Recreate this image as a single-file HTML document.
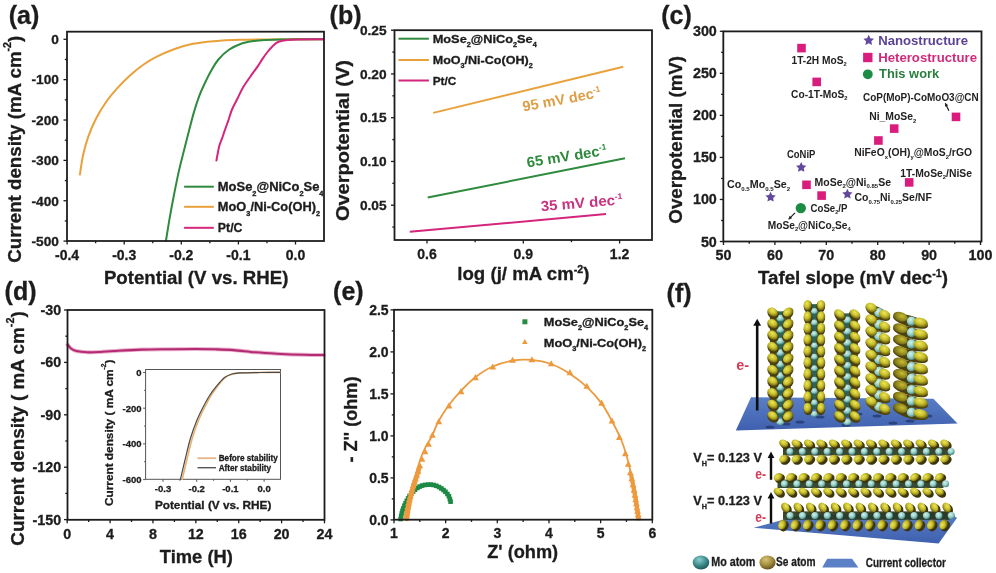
<!DOCTYPE html>
<html><head><meta charset="utf-8"><title>Figure</title>
<style>html,body{margin:0;padding:0;background:#fff;overflow:hidden;} svg{display:block;}</style></head>
<body><svg width="996" height="573" viewBox="0 0 996 573">
<defs>
<radialGradient id="gY" cx="0.4" cy="0.35" r="0.72">
<stop offset="0" stop-color="#ebe65c"/><stop offset="0.5" stop-color="#c6bc28"/><stop offset="1" stop-color="#534a0c"/></radialGradient>
<radialGradient id="gYd" cx="0.6" cy="0.4" r="0.72">
<stop offset="0" stop-color="#c8be30"/><stop offset="0.6" stop-color="#8a801c"/><stop offset="1" stop-color="#4a420c"/></radialGradient>
<radialGradient id="gC" cx="0.4" cy="0.35" r="0.7">
<stop offset="0" stop-color="#d4f2ee"/><stop offset="0.55" stop-color="#92cdc6"/><stop offset="1" stop-color="#3a7a72"/></radialGradient>
<radialGradient id="gMo" cx="0.4" cy="0.3" r="0.75">
<stop offset="0" stop-color="#8ccfcf"/><stop offset="0.55" stop-color="#3f8a8c"/><stop offset="1" stop-color="#1d4f52"/></radialGradient>
<radialGradient id="gSe" cx="0.4" cy="0.3" r="0.75">
<stop offset="0" stop-color="#d8c47a"/><stop offset="0.55" stop-color="#a08a3c"/><stop offset="1" stop-color="#5a4a18"/></radialGradient>
<linearGradient id="gPl" x1="0" y1="0" x2="0" y2="1">
<stop offset="0" stop-color="#5a7ec6"/><stop offset="1" stop-color="#3f60ae"/></linearGradient>
<filter id="fb" x="-5%" y="-5%" width="110%" height="110%"><feGaussianBlur stdDeviation="0.55"/></filter>
<filter id="gbl" x="0" y="0" width="100%" height="100%" filterUnits="userSpaceOnUse"><feGaussianBlur stdDeviation="0.45"/></filter>
</defs>
<rect width="996" height="573" fill="#fff"/>
<g filter="url(#gbl)">
<text x="8.80" y="23.90" font-size="25" fill="#1c1c1c" font-weight="bold" font-family="'Liberation Sans', Arial, Helvetica, sans-serif" stroke="#1c1c1c" stroke-width="0.3" >(a)</text>
<path d="M79.90,174.60 C80.43,171.33 81.70,161.32 83.10,155.00 C84.50,148.68 86.12,142.82 88.30,136.70 C90.48,130.58 93.15,124.20 96.20,118.30 C99.25,112.40 103.12,106.30 106.60,101.30 C110.08,96.30 113.17,92.65 117.10,88.30 C121.03,83.95 125.83,79.13 130.20,75.20 C134.57,71.27 138.95,67.75 143.30,64.70 C147.65,61.65 151.07,59.52 156.30,56.90 C161.53,54.28 168.58,51.18 174.70,49.00 C180.82,46.82 186.47,45.10 193.00,43.80 C199.53,42.50 206.07,41.87 213.90,41.20 C221.73,40.53 230.65,40.10 240.00,39.80 C249.35,39.50 256.17,39.48 270.00,39.40 C283.83,39.32 314.17,39.32 323.00,39.30" fill="none" stroke="#e9a13a" stroke-width="2.0" stroke-linejoin="round" stroke-linecap="round" />
<path d="M166.00,240.50 C166.67,236.45 168.65,223.92 170.00,216.20 C171.35,208.48 172.58,201.88 174.10,194.20 C175.62,186.52 177.43,177.47 179.10,170.10 C180.77,162.73 182.63,155.83 184.10,150.00 C185.57,144.17 186.25,141.45 187.90,135.10 C189.55,128.75 192.12,118.40 194.00,111.90 C195.88,105.40 197.45,100.77 199.20,96.10 C200.95,91.43 202.60,87.97 204.50,83.90 C206.40,79.83 208.28,75.77 210.60,71.70 C212.92,67.63 215.35,63.15 218.40,59.50 C221.45,55.85 225.12,52.43 228.90,49.80 C232.68,47.17 237.02,45.15 241.10,43.70 C245.18,42.25 249.42,41.72 253.40,41.10 C257.38,40.48 260.57,40.27 265.00,40.00 C269.43,39.73 270.33,39.62 280.00,39.50 C289.67,39.38 315.83,39.33 323.00,39.30" fill="none" stroke="#2f8a3e" stroke-width="2.0" stroke-linejoin="round" stroke-linecap="round" />
<path d="M216.40,160.60 C216.87,158.20 218.28,149.82 219.20,146.20 C220.12,142.58 220.98,141.50 221.90,138.90 C222.82,136.30 223.63,133.65 224.70,130.60 C225.77,127.55 227.08,124.12 228.30,120.60 C229.52,117.08 230.47,113.18 232.00,109.50 C233.53,105.82 235.67,102.17 237.50,98.50 C239.33,94.83 240.85,91.17 243.00,87.50 C245.15,83.83 247.95,80.02 250.40,76.50 C252.85,72.98 255.87,69.05 257.70,66.40 C259.53,63.75 259.97,62.75 261.40,60.60 C262.83,58.45 264.32,56.02 266.30,53.50 C268.28,50.98 271.25,47.45 273.30,45.50 C275.35,43.55 276.27,42.73 278.60,41.80 C280.93,40.87 283.73,40.30 287.30,39.90 C290.87,39.50 294.05,39.50 300.00,39.40 C305.95,39.30 319.17,39.32 323.00,39.30" fill="none" stroke="#d3277b" stroke-width="2.0" stroke-linejoin="round" stroke-linecap="round" />
<rect x="67.00" y="31.70" width="257.00" height="209.30" fill="none" stroke="#1c1c1c" stroke-width="1.8"/>
<line x1="63.50" y1="39.30" x2="67.00" y2="39.30" stroke="#1c1c1c" stroke-width="1.3" />
<line x1="63.50" y1="79.66" x2="67.00" y2="79.66" stroke="#1c1c1c" stroke-width="1.3" />
<line x1="63.50" y1="120.02" x2="67.00" y2="120.02" stroke="#1c1c1c" stroke-width="1.3" />
<line x1="63.50" y1="160.38" x2="67.00" y2="160.38" stroke="#1c1c1c" stroke-width="1.3" />
<line x1="63.50" y1="200.74" x2="67.00" y2="200.74" stroke="#1c1c1c" stroke-width="1.3" />
<line x1="63.50" y1="241.10" x2="67.00" y2="241.10" stroke="#1c1c1c" stroke-width="1.3" />
<line x1="64.80" y1="59.48" x2="67.00" y2="59.48" stroke="#1c1c1c" stroke-width="1.3" />
<line x1="64.80" y1="99.84" x2="67.00" y2="99.84" stroke="#1c1c1c" stroke-width="1.3" />
<line x1="64.80" y1="140.20" x2="67.00" y2="140.20" stroke="#1c1c1c" stroke-width="1.3" />
<line x1="64.80" y1="180.56" x2="67.00" y2="180.56" stroke="#1c1c1c" stroke-width="1.3" />
<line x1="64.80" y1="220.92" x2="67.00" y2="220.92" stroke="#1c1c1c" stroke-width="1.3" />
<line x1="67.10" y1="241.00" x2="67.10" y2="244.50" stroke="#1c1c1c" stroke-width="1.3" />
<line x1="124.20" y1="241.00" x2="124.20" y2="244.50" stroke="#1c1c1c" stroke-width="1.3" />
<line x1="181.30" y1="241.00" x2="181.30" y2="244.50" stroke="#1c1c1c" stroke-width="1.3" />
<line x1="238.40" y1="241.00" x2="238.40" y2="244.50" stroke="#1c1c1c" stroke-width="1.3" />
<line x1="295.50" y1="241.00" x2="295.50" y2="244.50" stroke="#1c1c1c" stroke-width="1.3" />
<line x1="95.65" y1="241.00" x2="95.65" y2="243.20" stroke="#1c1c1c" stroke-width="1.3" />
<line x1="152.75" y1="241.00" x2="152.75" y2="243.20" stroke="#1c1c1c" stroke-width="1.3" />
<line x1="209.85" y1="241.00" x2="209.85" y2="243.20" stroke="#1c1c1c" stroke-width="1.3" />
<line x1="266.95" y1="241.00" x2="266.95" y2="243.20" stroke="#1c1c1c" stroke-width="1.3" />
<text x="58.90" y="44.10" font-size="13.7" fill="#1c1c1c" font-weight="bold" font-family="'Liberation Sans', Arial, Helvetica, sans-serif" text-anchor="end" stroke="#1c1c1c" stroke-width="0.3" >0</text>
<text x="58.90" y="84.46" font-size="13.7" fill="#1c1c1c" font-weight="bold" font-family="'Liberation Sans', Arial, Helvetica, sans-serif" text-anchor="end" stroke="#1c1c1c" stroke-width="0.3" >-100</text>
<text x="58.90" y="124.82" font-size="13.7" fill="#1c1c1c" font-weight="bold" font-family="'Liberation Sans', Arial, Helvetica, sans-serif" text-anchor="end" stroke="#1c1c1c" stroke-width="0.3" >-200</text>
<text x="58.90" y="165.18" font-size="13.7" fill="#1c1c1c" font-weight="bold" font-family="'Liberation Sans', Arial, Helvetica, sans-serif" text-anchor="end" stroke="#1c1c1c" stroke-width="0.3" >-300</text>
<text x="58.90" y="205.54" font-size="13.7" fill="#1c1c1c" font-weight="bold" font-family="'Liberation Sans', Arial, Helvetica, sans-serif" text-anchor="end" stroke="#1c1c1c" stroke-width="0.3" >-400</text>
<text x="58.90" y="245.90" font-size="13.7" fill="#1c1c1c" font-weight="bold" font-family="'Liberation Sans', Arial, Helvetica, sans-serif" text-anchor="end" stroke="#1c1c1c" stroke-width="0.3" >-500</text>
<text x="67.10" y="260.30" font-size="14" fill="#1c1c1c" font-weight="bold" font-family="'Liberation Sans', Arial, Helvetica, sans-serif" text-anchor="middle" stroke="#1c1c1c" stroke-width="0.3" >-0.4</text>
<text x="124.20" y="260.30" font-size="14" fill="#1c1c1c" font-weight="bold" font-family="'Liberation Sans', Arial, Helvetica, sans-serif" text-anchor="middle" stroke="#1c1c1c" stroke-width="0.3" >-0.3</text>
<text x="181.30" y="260.30" font-size="14" fill="#1c1c1c" font-weight="bold" font-family="'Liberation Sans', Arial, Helvetica, sans-serif" text-anchor="middle" stroke="#1c1c1c" stroke-width="0.3" >-0.2</text>
<text x="238.40" y="260.30" font-size="14" fill="#1c1c1c" font-weight="bold" font-family="'Liberation Sans', Arial, Helvetica, sans-serif" text-anchor="middle" stroke="#1c1c1c" stroke-width="0.3" >-0.1</text>
<text x="295.50" y="260.30" font-size="14" fill="#1c1c1c" font-weight="bold" font-family="'Liberation Sans', Arial, Helvetica, sans-serif" text-anchor="middle" stroke="#1c1c1c" stroke-width="0.3" >0.0</text>
<text x="103.90" y="283.90" font-size="18" fill="#1c1c1c" font-weight="bold" font-family="'Liberation Sans', Arial, Helvetica, sans-serif" textLength="184.50" lengthAdjust="spacingAndGlyphs" stroke="#1c1c1c" stroke-width="0.3" >Potential (V vs. RHE)</text>
<text x="20.60" y="262.70" font-size="18" fill="#1c1c1c" font-weight="bold" font-family="'Liberation Sans', Arial, Helvetica, sans-serif" textLength="227.00" lengthAdjust="spacingAndGlyphs" transform="rotate(-90.00 20.60 262.70)" stroke="#1c1c1c" stroke-width="0.3" >Current density (mA cm<tspan dy="-9.90" font-size="10.26">-2</tspan><tspan dy="9.90">)</tspan></text>
<line x1="184.10" y1="186.70" x2="213.80" y2="186.70" stroke="#2f8a3e" stroke-width="2.0" />
<text x="217.80" y="191.10" font-size="12.3" fill="#1c1c1c" font-weight="bold" font-family="'Liberation Sans', Arial, Helvetica, sans-serif" textLength="105.70" lengthAdjust="spacingAndGlyphs" stroke="#1c1c1c" stroke-width="0.3" >MoSe<tspan dy="4.43" font-size="7.01">2</tspan><tspan dy="-4.43">@NiCo</tspan><tspan dy="4.43" font-size="7.01">2</tspan><tspan dy="-4.43">Se</tspan><tspan dy="4.43" font-size="7.01">4</tspan></text>
<line x1="184.10" y1="206.80" x2="213.80" y2="206.80" stroke="#e9a13a" stroke-width="2.0" />
<text x="217.80" y="211.20" font-size="12.3" fill="#1c1c1c" font-weight="bold" font-family="'Liberation Sans', Arial, Helvetica, sans-serif" textLength="102.30" lengthAdjust="spacingAndGlyphs" stroke="#1c1c1c" stroke-width="0.3" >MoO<tspan dy="4.43" font-size="7.01">3</tspan><tspan dy="-4.43">/Ni-Co(OH)</tspan><tspan dy="4.43" font-size="7.01">2</tspan></text>
<line x1="184.10" y1="227.80" x2="213.80" y2="227.80" stroke="#d3277b" stroke-width="2.0" />
<text x="217.80" y="232.20" font-size="12.3" fill="#1c1c1c" font-weight="bold" font-family="'Liberation Sans', Arial, Helvetica, sans-serif" textLength="24.70" lengthAdjust="spacingAndGlyphs" stroke="#1c1c1c" stroke-width="0.3" >Pt/C</text>
<text x="329.60" y="24.00" font-size="25" fill="#1c1c1c" font-weight="bold" font-family="'Liberation Sans', Arial, Helvetica, sans-serif" stroke="#1c1c1c" stroke-width="0.3" >(b)</text>
<line x1="433.20" y1="112.90" x2="623.20" y2="66.70" stroke="#e9a13a" stroke-width="2.0" />
<line x1="427.70" y1="197.60" x2="625.00" y2="158.30" stroke="#2f8a3e" stroke-width="2.0" />
<line x1="409.80" y1="231.70" x2="606.00" y2="214.10" stroke="#d3277b" stroke-width="2.0" />
<rect x="394.50" y="30.20" width="257.50" height="209.80" fill="none" stroke="#1c1c1c" stroke-width="1.8"/>
<line x1="391.00" y1="205.20" x2="394.50" y2="205.20" stroke="#1c1c1c" stroke-width="1.3" />
<line x1="391.00" y1="161.45" x2="394.50" y2="161.45" stroke="#1c1c1c" stroke-width="1.3" />
<line x1="391.00" y1="117.70" x2="394.50" y2="117.70" stroke="#1c1c1c" stroke-width="1.3" />
<line x1="391.00" y1="73.95" x2="394.50" y2="73.95" stroke="#1c1c1c" stroke-width="1.3" />
<line x1="391.00" y1="30.20" x2="394.50" y2="30.20" stroke="#1c1c1c" stroke-width="1.3" />
<line x1="392.30" y1="227.07" x2="394.50" y2="227.07" stroke="#1c1c1c" stroke-width="1.3" />
<line x1="392.30" y1="183.32" x2="394.50" y2="183.32" stroke="#1c1c1c" stroke-width="1.3" />
<line x1="392.30" y1="139.57" x2="394.50" y2="139.57" stroke="#1c1c1c" stroke-width="1.3" />
<line x1="392.30" y1="95.83" x2="394.50" y2="95.83" stroke="#1c1c1c" stroke-width="1.3" />
<line x1="392.30" y1="52.07" x2="394.50" y2="52.07" stroke="#1c1c1c" stroke-width="1.3" />
<line x1="427.00" y1="240.00" x2="427.00" y2="243.50" stroke="#1c1c1c" stroke-width="1.3" />
<line x1="523.30" y1="240.00" x2="523.30" y2="243.50" stroke="#1c1c1c" stroke-width="1.3" />
<line x1="619.60" y1="240.00" x2="619.60" y2="243.50" stroke="#1c1c1c" stroke-width="1.3" />
<line x1="475.15" y1="240.00" x2="475.15" y2="242.20" stroke="#1c1c1c" stroke-width="1.3" />
<line x1="571.45" y1="240.00" x2="571.45" y2="242.20" stroke="#1c1c1c" stroke-width="1.3" />
<text x="386.60" y="209.80" font-size="13.7" fill="#1c1c1c" font-weight="bold" font-family="'Liberation Sans', Arial, Helvetica, sans-serif" text-anchor="end" stroke="#1c1c1c" stroke-width="0.3" >0.05</text>
<text x="386.60" y="166.05" font-size="13.7" fill="#1c1c1c" font-weight="bold" font-family="'Liberation Sans', Arial, Helvetica, sans-serif" text-anchor="end" stroke="#1c1c1c" stroke-width="0.3" >0.10</text>
<text x="386.60" y="122.30" font-size="13.7" fill="#1c1c1c" font-weight="bold" font-family="'Liberation Sans', Arial, Helvetica, sans-serif" text-anchor="end" stroke="#1c1c1c" stroke-width="0.3" >0.15</text>
<text x="386.60" y="78.55" font-size="13.7" fill="#1c1c1c" font-weight="bold" font-family="'Liberation Sans', Arial, Helvetica, sans-serif" text-anchor="end" stroke="#1c1c1c" stroke-width="0.3" >0.20</text>
<text x="386.60" y="34.80" font-size="13.7" fill="#1c1c1c" font-weight="bold" font-family="'Liberation Sans', Arial, Helvetica, sans-serif" text-anchor="end" stroke="#1c1c1c" stroke-width="0.3" >0.25</text>
<text x="427.00" y="258.70" font-size="14" fill="#1c1c1c" font-weight="bold" font-family="'Liberation Sans', Arial, Helvetica, sans-serif" text-anchor="middle" stroke="#1c1c1c" stroke-width="0.3" >0.6</text>
<text x="523.30" y="258.70" font-size="14" fill="#1c1c1c" font-weight="bold" font-family="'Liberation Sans', Arial, Helvetica, sans-serif" text-anchor="middle" stroke="#1c1c1c" stroke-width="0.3" >0.9</text>
<text x="619.60" y="258.70" font-size="14" fill="#1c1c1c" font-weight="bold" font-family="'Liberation Sans', Arial, Helvetica, sans-serif" text-anchor="middle" stroke="#1c1c1c" stroke-width="0.3" >1.2</text>
<text x="457.30" y="279.80" font-size="18" fill="#1c1c1c" font-weight="bold" font-family="'Liberation Sans', Arial, Helvetica, sans-serif" textLength="132.10" lengthAdjust="spacingAndGlyphs" stroke="#1c1c1c" stroke-width="0.3" >log (j/ mA cm<tspan dy="-6.84" font-size="10.26">-2</tspan><tspan dy="6.84">)</tspan></text>
<text x="349.20" y="221.10" font-size="18" fill="#1c1c1c" font-weight="bold" font-family="'Liberation Sans', Arial, Helvetica, sans-serif" textLength="161.10" lengthAdjust="spacingAndGlyphs" transform="rotate(-90.00 349.20 221.10)" stroke="#1c1c1c" stroke-width="0.3" >Overpotential (V)</text>
<line x1="398.50" y1="38.70" x2="428.90" y2="38.70" stroke="#2f8a3e" stroke-width="2.0" />
<text x="432.70" y="42.90" font-size="11.4" fill="#1c1c1c" font-weight="bold" font-family="'Liberation Sans', Arial, Helvetica, sans-serif" textLength="104.10" lengthAdjust="spacingAndGlyphs" stroke="#1c1c1c" stroke-width="0.3" >MoSe<tspan dy="4.10" font-size="6.50">2</tspan><tspan dy="-4.10">@NiCo</tspan><tspan dy="4.10" font-size="6.50">2</tspan><tspan dy="-4.10">Se</tspan><tspan dy="4.10" font-size="6.50">4</tspan></text>
<line x1="398.50" y1="60.00" x2="428.90" y2="60.00" stroke="#e9a13a" stroke-width="2.0" />
<text x="432.70" y="64.20" font-size="11.4" fill="#1c1c1c" font-weight="bold" font-family="'Liberation Sans', Arial, Helvetica, sans-serif" textLength="100.00" lengthAdjust="spacingAndGlyphs" stroke="#1c1c1c" stroke-width="0.3" >MoO<tspan dy="4.10" font-size="6.50">3</tspan><tspan dy="-4.10">/Ni-Co(OH)</tspan><tspan dy="4.10" font-size="6.50">2</tspan></text>
<line x1="398.50" y1="80.50" x2="428.90" y2="80.50" stroke="#d3277b" stroke-width="2.0" />
<text x="432.70" y="84.70" font-size="11.4" fill="#1c1c1c" font-weight="bold" font-family="'Liberation Sans', Arial, Helvetica, sans-serif" textLength="23.50" lengthAdjust="spacingAndGlyphs" stroke="#1c1c1c" stroke-width="0.3" >Pt/C</text>
<text x="523.60" y="111.60" font-size="14.5" fill="#dd9e45" font-weight="bold" font-family="'Liberation Sans', Arial, Helvetica, sans-serif" textLength="79.40" lengthAdjust="spacingAndGlyphs" transform="rotate(-10.70 523.60 111.60)" >95 mV dec<tspan dy="-5.51" font-size="8.26">-1</tspan></text>
<text x="527.60" y="167.40" font-size="14.5" fill="#2f8a3c" font-weight="bold" font-family="'Liberation Sans', Arial, Helvetica, sans-serif" textLength="81.00" lengthAdjust="spacingAndGlyphs" transform="rotate(-9.00 527.60 167.40)" >65 mV dec<tspan dy="-5.51" font-size="8.26">-1</tspan></text>
<text x="541.20" y="211.20" font-size="14.5" fill="#c8307f" font-weight="bold" font-family="'Liberation Sans', Arial, Helvetica, sans-serif" textLength="82.00" lengthAdjust="spacingAndGlyphs" transform="rotate(-4.80 541.20 211.20)" >35 mV dec<tspan dy="-5.51" font-size="8.26">-1</tspan></text>
<text x="661.20" y="24.00" font-size="25" fill="#1c1c1c" font-weight="bold" font-family="'Liberation Sans', Arial, Helvetica, sans-serif" stroke="#1c1c1c" stroke-width="0.3" >(c)</text>
<rect x="723.30" y="31.40" width="258.20" height="210.10" fill="none" stroke="#1c1c1c" stroke-width="1.8"/>
<line x1="719.80" y1="241.50" x2="723.30" y2="241.50" stroke="#1c1c1c" stroke-width="1.3" />
<line x1="719.80" y1="199.46" x2="723.30" y2="199.46" stroke="#1c1c1c" stroke-width="1.3" />
<line x1="719.80" y1="157.42" x2="723.30" y2="157.42" stroke="#1c1c1c" stroke-width="1.3" />
<line x1="719.80" y1="115.38" x2="723.30" y2="115.38" stroke="#1c1c1c" stroke-width="1.3" />
<line x1="719.80" y1="73.34" x2="723.30" y2="73.34" stroke="#1c1c1c" stroke-width="1.3" />
<line x1="719.80" y1="31.30" x2="723.30" y2="31.30" stroke="#1c1c1c" stroke-width="1.3" />
<line x1="721.10" y1="220.48" x2="723.30" y2="220.48" stroke="#1c1c1c" stroke-width="1.3" />
<line x1="721.10" y1="178.44" x2="723.30" y2="178.44" stroke="#1c1c1c" stroke-width="1.3" />
<line x1="721.10" y1="136.40" x2="723.30" y2="136.40" stroke="#1c1c1c" stroke-width="1.3" />
<line x1="721.10" y1="94.36" x2="723.30" y2="94.36" stroke="#1c1c1c" stroke-width="1.3" />
<line x1="721.10" y1="52.32" x2="723.30" y2="52.32" stroke="#1c1c1c" stroke-width="1.3" />
<line x1="723.50" y1="241.50" x2="723.50" y2="245.00" stroke="#1c1c1c" stroke-width="1.3" />
<line x1="774.90" y1="241.50" x2="774.90" y2="245.00" stroke="#1c1c1c" stroke-width="1.3" />
<line x1="826.30" y1="241.50" x2="826.30" y2="245.00" stroke="#1c1c1c" stroke-width="1.3" />
<line x1="877.70" y1="241.50" x2="877.70" y2="245.00" stroke="#1c1c1c" stroke-width="1.3" />
<line x1="929.10" y1="241.50" x2="929.10" y2="245.00" stroke="#1c1c1c" stroke-width="1.3" />
<line x1="980.50" y1="241.50" x2="980.50" y2="245.00" stroke="#1c1c1c" stroke-width="1.3" />
<line x1="749.20" y1="241.50" x2="749.20" y2="243.70" stroke="#1c1c1c" stroke-width="1.3" />
<line x1="800.60" y1="241.50" x2="800.60" y2="243.70" stroke="#1c1c1c" stroke-width="1.3" />
<line x1="852.00" y1="241.50" x2="852.00" y2="243.70" stroke="#1c1c1c" stroke-width="1.3" />
<line x1="903.40" y1="241.50" x2="903.40" y2="243.70" stroke="#1c1c1c" stroke-width="1.3" />
<line x1="954.80" y1="241.50" x2="954.80" y2="243.70" stroke="#1c1c1c" stroke-width="1.3" />
<text x="716.80" y="246.50" font-size="14.3" fill="#1c1c1c" font-weight="bold" font-family="'Liberation Sans', Arial, Helvetica, sans-serif" text-anchor="end" stroke="#1c1c1c" stroke-width="0.3" >50</text>
<text x="716.80" y="204.46" font-size="14.3" fill="#1c1c1c" font-weight="bold" font-family="'Liberation Sans', Arial, Helvetica, sans-serif" text-anchor="end" stroke="#1c1c1c" stroke-width="0.3" >100</text>
<text x="716.80" y="162.42" font-size="14.3" fill="#1c1c1c" font-weight="bold" font-family="'Liberation Sans', Arial, Helvetica, sans-serif" text-anchor="end" stroke="#1c1c1c" stroke-width="0.3" >150</text>
<text x="716.80" y="120.38" font-size="14.3" fill="#1c1c1c" font-weight="bold" font-family="'Liberation Sans', Arial, Helvetica, sans-serif" text-anchor="end" stroke="#1c1c1c" stroke-width="0.3" >200</text>
<text x="716.80" y="78.34" font-size="14.3" fill="#1c1c1c" font-weight="bold" font-family="'Liberation Sans', Arial, Helvetica, sans-serif" text-anchor="end" stroke="#1c1c1c" stroke-width="0.3" >250</text>
<text x="716.80" y="36.30" font-size="14.3" fill="#1c1c1c" font-weight="bold" font-family="'Liberation Sans', Arial, Helvetica, sans-serif" text-anchor="end" stroke="#1c1c1c" stroke-width="0.3" >300</text>
<text x="723.50" y="259.60" font-size="14.3" fill="#1c1c1c" font-weight="bold" font-family="'Liberation Sans', Arial, Helvetica, sans-serif" text-anchor="middle" stroke="#1c1c1c" stroke-width="0.3" >50</text>
<text x="774.90" y="259.60" font-size="14.3" fill="#1c1c1c" font-weight="bold" font-family="'Liberation Sans', Arial, Helvetica, sans-serif" text-anchor="middle" stroke="#1c1c1c" stroke-width="0.3" >60</text>
<text x="826.30" y="259.60" font-size="14.3" fill="#1c1c1c" font-weight="bold" font-family="'Liberation Sans', Arial, Helvetica, sans-serif" text-anchor="middle" stroke="#1c1c1c" stroke-width="0.3" >70</text>
<text x="877.70" y="259.60" font-size="14.3" fill="#1c1c1c" font-weight="bold" font-family="'Liberation Sans', Arial, Helvetica, sans-serif" text-anchor="middle" stroke="#1c1c1c" stroke-width="0.3" >80</text>
<text x="929.10" y="259.60" font-size="14.3" fill="#1c1c1c" font-weight="bold" font-family="'Liberation Sans', Arial, Helvetica, sans-serif" text-anchor="middle" stroke="#1c1c1c" stroke-width="0.3" >90</text>
<text x="980.50" y="259.60" font-size="14.3" fill="#1c1c1c" font-weight="bold" font-family="'Liberation Sans', Arial, Helvetica, sans-serif" text-anchor="middle" stroke="#1c1c1c" stroke-width="0.3" >100</text>
<text x="758.00" y="284.00" font-size="18" fill="#1c1c1c" font-weight="bold" font-family="'Liberation Sans', Arial, Helvetica, sans-serif" textLength="190.00" lengthAdjust="spacingAndGlyphs" stroke="#1c1c1c" stroke-width="0.3" >Tafel slope (mV dec<tspan dy="-6.84" font-size="10.26">-1</tspan><tspan dy="6.84">)</tspan></text>
<text x="681.60" y="223.70" font-size="18" fill="#1c1c1c" font-weight="bold" font-family="'Liberation Sans', Arial, Helvetica, sans-serif" textLength="167.80" lengthAdjust="spacingAndGlyphs" transform="rotate(-90.00 681.60 223.70)" stroke="#1c1c1c" stroke-width="0.3" >Overpotential (mV)</text>
<rect x="797.20" y="43.80" width="8.6" height="8.6" fill="#d91e7e"/>
<text x="791.50" y="63.70" font-size="10.5" fill="#222" font-weight="bold" font-family="'Liberation Sans', Arial, Helvetica, sans-serif" textLength="55.20" lengthAdjust="spacingAndGlyphs" >1T-2H MoS<tspan dy="2.31" font-size="5.98">2</tspan></text>
<rect x="812.40" y="77.60" width="8.6" height="8.6" fill="#d91e7e"/>
<text x="791.10" y="97.60" font-size="10.5" fill="#222" font-weight="bold" font-family="'Liberation Sans', Arial, Helvetica, sans-serif" textLength="56.50" lengthAdjust="spacingAndGlyphs" >Co-1T-MoS<tspan dy="2.31" font-size="5.98">2</tspan></text>
<rect x="951.70" y="112.60" width="8.6" height="8.6" fill="#d91e7e"/>
<text x="863.00" y="100.70" font-size="10.5" fill="#222" font-weight="bold" font-family="'Liberation Sans', Arial, Helvetica, sans-serif" textLength="115.70" lengthAdjust="spacingAndGlyphs" >CoP(MoP)-CoMoO3@CN</text>
<line x1="948.90" y1="110.70" x2="945.30" y2="103.20" stroke="#1c1c1c" stroke-width="1.2" />
<polygon points="945.30,103.20 948.31,105.31 945.06,106.86" fill="#1c1c1c"/>
<rect x="889.90" y="124.30" width="8.6" height="8.6" fill="#d91e7e"/>
<text x="869.20" y="120.30" font-size="10.5" fill="#222" font-weight="bold" font-family="'Liberation Sans', Arial, Helvetica, sans-serif" textLength="47.10" lengthAdjust="spacingAndGlyphs" >Ni_MoSe<tspan dy="2.31" font-size="5.98">2</tspan></text>
<rect x="874.10" y="136.20" width="8.6" height="8.6" fill="#d91e7e"/>
<text x="854.20" y="156.40" font-size="10.5" fill="#222" font-weight="bold" font-family="'Liberation Sans', Arial, Helvetica, sans-serif" textLength="117.80" lengthAdjust="spacingAndGlyphs" >NiFeO<tspan dy="2.31" font-size="5.98">x</tspan><tspan dy="-2.31">(OH)</tspan><tspan dy="2.31" font-size="5.98">y</tspan><tspan dy="-2.31">@MoS</tspan><tspan dy="2.31" font-size="5.98">2</tspan><tspan dy="-2.31">/rGO</tspan></text>
<rect x="904.90" y="178.10" width="8.6" height="8.6" fill="#d91e7e"/>
<text x="900.30" y="176.60" font-size="10.5" fill="#222" font-weight="bold" font-family="'Liberation Sans', Arial, Helvetica, sans-serif" textLength="71.70" lengthAdjust="spacingAndGlyphs" >1T-MoSe<tspan dy="2.31" font-size="5.98">2</tspan><tspan dy="-2.31">/NiSe</tspan></text>
<rect x="802.20" y="180.50" width="8.6" height="8.6" fill="#d91e7e"/>
<text x="814.50" y="185.80" font-size="10.5" fill="#222" font-weight="bold" font-family="'Liberation Sans', Arial, Helvetica, sans-serif" textLength="76.50" lengthAdjust="spacingAndGlyphs" >MoSe<tspan dy="2.31" font-size="5.98">2</tspan><tspan dy="-2.31">@Ni</tspan><tspan dy="2.31" font-size="5.98">0.85</tspan><tspan dy="-2.31">Se</tspan></text>
<rect x="817.30" y="191.30" width="8.6" height="8.6" fill="#d91e7e"/>
<text x="810.60" y="212.00" font-size="10.5" fill="#222" font-weight="bold" font-family="'Liberation Sans', Arial, Helvetica, sans-serif" textLength="36.80" lengthAdjust="spacingAndGlyphs" >CoSe<tspan dy="2.31" font-size="5.98">2</tspan><tspan dy="-2.31">/P</tspan></text>
<polygon points="801.20,162.10 802.79,165.32 806.34,165.83 803.77,168.33 804.37,171.87 801.20,170.20 798.03,171.87 798.63,168.33 796.06,165.83 799.61,165.32" fill="#644a9c"/>
<text x="787.00" y="158.10" font-size="10.5" fill="#222" font-weight="bold" font-family="'Liberation Sans', Arial, Helvetica, sans-serif" textLength="28.40" lengthAdjust="spacingAndGlyphs" >CoNiP</text>
<polygon points="770.60,191.80 772.19,195.02 775.74,195.53 773.17,198.03 773.77,201.57 770.60,199.90 767.43,201.57 768.03,198.03 765.46,195.53 769.01,195.02" fill="#644a9c"/>
<text x="727.00" y="188.30" font-size="10.5" fill="#222" font-weight="bold" font-family="'Liberation Sans', Arial, Helvetica, sans-serif" textLength="63.20" lengthAdjust="spacingAndGlyphs" >Co<tspan dy="2.31" font-size="5.98">0.5</tspan><tspan dy="-2.31">Mo</tspan><tspan dy="2.31" font-size="5.98">0.5</tspan><tspan dy="-2.31">Se</tspan><tspan dy="2.31" font-size="5.98">2</tspan></text>
<polygon points="847.40,188.80 848.99,192.02 852.54,192.53 849.97,195.03 850.57,198.57 847.40,196.90 844.23,198.57 844.83,195.03 842.26,192.53 845.81,192.02" fill="#644a9c"/>
<text x="854.50" y="201.30" font-size="10.5" fill="#222" font-weight="bold" font-family="'Liberation Sans', Arial, Helvetica, sans-serif" textLength="77.30" lengthAdjust="spacingAndGlyphs" >Co<tspan dy="2.31" font-size="5.98">0.75</tspan><tspan dy="-2.31">Ni</tspan><tspan dy="2.31" font-size="5.98">0.25</tspan><tspan dy="-2.31">Se/NF</tspan></text>
<circle cx="800.80" cy="208.10" r="5.2" fill="#1f8c45"/>
<line x1="795.00" y1="212.90" x2="788.60" y2="219.30" stroke="#1c1c1c" stroke-width="1.2" />
<polygon points="788.60,219.30 789.59,215.76 792.14,218.31" fill="#1c1c1c"/>
<text x="767.80" y="228.90" font-size="10.5" fill="#222" font-weight="bold" font-family="'Liberation Sans', Arial, Helvetica, sans-serif" textLength="82.80" lengthAdjust="spacingAndGlyphs" >MoSe<tspan dy="2.31" font-size="5.98">2</tspan><tspan dy="-2.31">@NiCo</tspan><tspan dy="2.31" font-size="5.98">2</tspan><tspan dy="-2.31">Se</tspan><tspan dy="2.31" font-size="5.98">4</tspan></text>
<polygon points="868.70,34.80 870.35,38.13 874.03,38.67 871.36,41.27 871.99,44.93 868.70,43.20 865.41,44.93 866.04,41.27 863.37,38.67 867.05,38.13" fill="#644a9c"/>
<text x="878.20" y="44.70" font-size="13.5" fill="#5c4294" font-weight="bold" font-family="'Liberation Sans', Arial, Helvetica, sans-serif" textLength="89.80" lengthAdjust="spacingAndGlyphs" >Nanostructure</text>
<rect x="863.10" y="52.80" width="9.4" height="9.4" fill="#d91e7e"/>
<text x="878.20" y="61.70" font-size="13.5" fill="#d02a7c" font-weight="bold" font-family="'Liberation Sans', Arial, Helvetica, sans-serif" textLength="98.80" lengthAdjust="spacingAndGlyphs" >Heterostructure</text>
<circle cx="867.80" cy="74.30" r="4.9" fill="#1f8c45"/>
<text x="879.00" y="78.30" font-size="13.5" fill="#2a7e3e" font-weight="bold" font-family="'Liberation Sans', Arial, Helvetica, sans-serif" textLength="60.20" lengthAdjust="spacingAndGlyphs" >This work</text>
<text x="4.60" y="300.00" font-size="25" fill="#1c1c1c" font-weight="bold" font-family="'Liberation Sans', Arial, Helvetica, sans-serif" stroke="#1c1c1c" stroke-width="0.3" >(d)</text>
<path d="M67.60,344.70 C68.17,345.33 69.55,347.45 71.00,348.50 C72.45,349.55 73.62,350.37 76.30,351.00 C78.98,351.63 83.15,352.13 87.10,352.30 C91.05,352.47 95.48,352.22 100.00,352.00 C104.52,351.78 107.32,351.40 114.20,351.00 C121.08,350.60 132.00,349.90 141.30,349.60 C150.60,349.30 160.97,349.30 170.00,349.20 C179.03,349.10 188.00,348.98 195.50,349.00 C203.00,349.02 208.67,349.12 215.00,349.30 C221.33,349.48 226.80,349.60 233.50,350.10 C240.20,350.60 247.97,351.70 255.20,352.30 C262.43,352.90 268.77,353.28 276.90,353.70 C285.03,354.12 296.18,354.58 304.00,354.80 C311.82,355.02 320.50,354.97 323.80,355.00" fill="none" stroke="#eab2cc" stroke-width="4.0" stroke-linejoin="round" stroke-linecap="round" />
<path d="M67.60,344.70 C68.17,345.33 69.55,347.45 71.00,348.50 C72.45,349.55 73.62,350.37 76.30,351.00 C78.98,351.63 83.15,352.13 87.10,352.30 C91.05,352.47 95.48,352.22 100.00,352.00 C104.52,351.78 107.32,351.40 114.20,351.00 C121.08,350.60 132.00,349.90 141.30,349.60 C150.60,349.30 160.97,349.30 170.00,349.20 C179.03,349.10 188.00,348.98 195.50,349.00 C203.00,349.02 208.67,349.12 215.00,349.30 C221.33,349.48 226.80,349.60 233.50,350.10 C240.20,350.60 247.97,351.70 255.20,352.30 C262.43,352.90 268.77,353.28 276.90,353.70 C285.03,354.12 296.18,354.58 304.00,354.80 C311.82,355.02 320.50,354.97 323.80,355.00" fill="none" stroke="#b52c74" stroke-width="2.1" stroke-linejoin="round" stroke-linecap="round" />
<rect x="67.50" y="310.00" width="257.00" height="209.80" fill="none" stroke="#1c1c1c" stroke-width="1.8"/>
<line x1="64.00" y1="310.00" x2="67.50" y2="310.00" stroke="#1c1c1c" stroke-width="1.3" />
<line x1="64.00" y1="362.40" x2="67.50" y2="362.40" stroke="#1c1c1c" stroke-width="1.3" />
<line x1="64.00" y1="414.80" x2="67.50" y2="414.80" stroke="#1c1c1c" stroke-width="1.3" />
<line x1="64.00" y1="467.20" x2="67.50" y2="467.20" stroke="#1c1c1c" stroke-width="1.3" />
<line x1="64.00" y1="519.60" x2="67.50" y2="519.60" stroke="#1c1c1c" stroke-width="1.3" />
<line x1="65.30" y1="336.20" x2="67.50" y2="336.20" stroke="#1c1c1c" stroke-width="1.3" />
<line x1="65.30" y1="388.60" x2="67.50" y2="388.60" stroke="#1c1c1c" stroke-width="1.3" />
<line x1="65.30" y1="441.00" x2="67.50" y2="441.00" stroke="#1c1c1c" stroke-width="1.3" />
<line x1="65.30" y1="493.40" x2="67.50" y2="493.40" stroke="#1c1c1c" stroke-width="1.3" />
<line x1="67.20" y1="519.80" x2="67.20" y2="523.30" stroke="#1c1c1c" stroke-width="1.3" />
<line x1="110.08" y1="519.80" x2="110.08" y2="523.30" stroke="#1c1c1c" stroke-width="1.3" />
<line x1="152.96" y1="519.80" x2="152.96" y2="523.30" stroke="#1c1c1c" stroke-width="1.3" />
<line x1="195.84" y1="519.80" x2="195.84" y2="523.30" stroke="#1c1c1c" stroke-width="1.3" />
<line x1="238.72" y1="519.80" x2="238.72" y2="523.30" stroke="#1c1c1c" stroke-width="1.3" />
<line x1="281.60" y1="519.80" x2="281.60" y2="523.30" stroke="#1c1c1c" stroke-width="1.3" />
<line x1="324.48" y1="519.80" x2="324.48" y2="523.30" stroke="#1c1c1c" stroke-width="1.3" />
<line x1="88.64" y1="519.80" x2="88.64" y2="522.00" stroke="#1c1c1c" stroke-width="1.3" />
<line x1="131.52" y1="519.80" x2="131.52" y2="522.00" stroke="#1c1c1c" stroke-width="1.3" />
<line x1="174.40" y1="519.80" x2="174.40" y2="522.00" stroke="#1c1c1c" stroke-width="1.3" />
<line x1="217.28" y1="519.80" x2="217.28" y2="522.00" stroke="#1c1c1c" stroke-width="1.3" />
<line x1="260.16" y1="519.80" x2="260.16" y2="522.00" stroke="#1c1c1c" stroke-width="1.3" />
<line x1="303.04" y1="519.80" x2="303.04" y2="522.00" stroke="#1c1c1c" stroke-width="1.3" />
<text x="61.20" y="315.00" font-size="14.3" fill="#1c1c1c" font-weight="bold" font-family="'Liberation Sans', Arial, Helvetica, sans-serif" text-anchor="end" stroke="#1c1c1c" stroke-width="0.3" >-30</text>
<text x="61.20" y="367.40" font-size="14.3" fill="#1c1c1c" font-weight="bold" font-family="'Liberation Sans', Arial, Helvetica, sans-serif" text-anchor="end" stroke="#1c1c1c" stroke-width="0.3" >-60</text>
<text x="61.20" y="419.80" font-size="14.3" fill="#1c1c1c" font-weight="bold" font-family="'Liberation Sans', Arial, Helvetica, sans-serif" text-anchor="end" stroke="#1c1c1c" stroke-width="0.3" >-90</text>
<text x="61.20" y="472.20" font-size="14.3" fill="#1c1c1c" font-weight="bold" font-family="'Liberation Sans', Arial, Helvetica, sans-serif" text-anchor="end" stroke="#1c1c1c" stroke-width="0.3" >-120</text>
<text x="61.20" y="524.60" font-size="14.3" fill="#1c1c1c" font-weight="bold" font-family="'Liberation Sans', Arial, Helvetica, sans-serif" text-anchor="end" stroke="#1c1c1c" stroke-width="0.3" >-150</text>
<text x="67.20" y="538.80" font-size="14.3" fill="#1c1c1c" font-weight="bold" font-family="'Liberation Sans', Arial, Helvetica, sans-serif" text-anchor="middle" stroke="#1c1c1c" stroke-width="0.3" >0</text>
<text x="110.08" y="538.80" font-size="14.3" fill="#1c1c1c" font-weight="bold" font-family="'Liberation Sans', Arial, Helvetica, sans-serif" text-anchor="middle" stroke="#1c1c1c" stroke-width="0.3" >4</text>
<text x="152.96" y="538.80" font-size="14.3" fill="#1c1c1c" font-weight="bold" font-family="'Liberation Sans', Arial, Helvetica, sans-serif" text-anchor="middle" stroke="#1c1c1c" stroke-width="0.3" >8</text>
<text x="195.84" y="538.80" font-size="14.3" fill="#1c1c1c" font-weight="bold" font-family="'Liberation Sans', Arial, Helvetica, sans-serif" text-anchor="middle" stroke="#1c1c1c" stroke-width="0.3" >12</text>
<text x="238.72" y="538.80" font-size="14.3" fill="#1c1c1c" font-weight="bold" font-family="'Liberation Sans', Arial, Helvetica, sans-serif" text-anchor="middle" stroke="#1c1c1c" stroke-width="0.3" >16</text>
<text x="281.60" y="538.80" font-size="14.3" fill="#1c1c1c" font-weight="bold" font-family="'Liberation Sans', Arial, Helvetica, sans-serif" text-anchor="middle" stroke="#1c1c1c" stroke-width="0.3" >20</text>
<text x="324.48" y="538.80" font-size="14.3" fill="#1c1c1c" font-weight="bold" font-family="'Liberation Sans', Arial, Helvetica, sans-serif" text-anchor="middle" stroke="#1c1c1c" stroke-width="0.3" >24</text>
<text x="159.80" y="563.30" font-size="18" fill="#1c1c1c" font-weight="bold" font-family="'Liberation Sans', Arial, Helvetica, sans-serif" textLength="73.10" lengthAdjust="spacingAndGlyphs" stroke="#1c1c1c" stroke-width="0.3" >Time (H)</text>
<text x="24.00" y="545.70" font-size="18" fill="#1c1c1c" font-weight="bold" font-family="'Liberation Sans', Arial, Helvetica, sans-serif" textLength="234.40" lengthAdjust="spacingAndGlyphs" transform="rotate(-90.00 24.00 545.70)" stroke="#1c1c1c" stroke-width="0.3" >Current density ( mA cm<tspan dy="-9.90" font-size="10.26">-2</tspan><tspan dy="9.90">)</tspan></text>
<rect x="145.6" y="369.5" width="134.9" height="109.80000000000001" fill="#fff" stroke="#555" stroke-width="1"/>
<path d="M182.20,479.30 C182.97,476.08 185.13,466.80 186.80,460.00 C188.47,453.20 190.28,445.00 192.20,438.50 C194.12,432.00 196.20,426.25 198.30,421.00 C200.40,415.75 202.68,411.25 204.80,407.00 C206.92,402.75 208.87,398.97 211.00,395.50 C213.13,392.03 215.22,389.20 217.60,386.20 C219.98,383.20 222.82,379.53 225.30,377.50 C227.78,375.47 229.97,374.77 232.50,374.00 C235.03,373.23 235.92,373.15 240.50,372.90 C245.08,372.65 253.42,372.58 260.00,372.50 C266.58,372.42 276.67,372.42 280.00,372.40" fill="none" stroke="#e9b070" stroke-width="1.6" stroke-linejoin="round" stroke-linecap="round" />
<path d="M180.40,479.30 C181.17,476.08 183.33,466.80 185.00,460.00 C186.67,453.20 188.47,445.00 190.40,438.50 C192.33,432.00 194.47,426.25 196.60,421.00 C198.73,415.75 201.03,411.25 203.20,407.00 C205.37,402.75 207.38,398.97 209.60,395.50 C211.82,392.03 214.02,389.20 216.50,386.20 C218.98,383.20 221.92,379.53 224.50,377.50 C227.08,375.47 229.42,374.77 232.00,374.00 C234.58,373.23 235.33,373.15 240.00,372.90 C244.67,372.65 253.33,372.58 260.00,372.50 C266.67,372.42 276.67,372.42 280.00,372.40" fill="none" stroke="#4a4a4a" stroke-width="1.2" stroke-linejoin="round" stroke-linecap="round" />
<line x1="143.10" y1="372.50" x2="145.60" y2="372.50" stroke="#555" stroke-width="1" />
<line x1="143.10" y1="408.20" x2="145.60" y2="408.20" stroke="#555" stroke-width="1" />
<line x1="143.10" y1="443.90" x2="145.60" y2="443.90" stroke="#555" stroke-width="1" />
<line x1="143.10" y1="479.60" x2="145.60" y2="479.60" stroke="#555" stroke-width="1" />
<line x1="144.10" y1="390.35" x2="145.60" y2="390.35" stroke="#555" stroke-width="1" />
<line x1="144.10" y1="426.05" x2="145.60" y2="426.05" stroke="#555" stroke-width="1" />
<line x1="144.10" y1="461.75" x2="145.60" y2="461.75" stroke="#555" stroke-width="1" />
<line x1="163.00" y1="479.30" x2="163.00" y2="481.80" stroke="#555" stroke-width="1" />
<line x1="196.70" y1="479.30" x2="196.70" y2="481.80" stroke="#555" stroke-width="1" />
<line x1="230.40" y1="479.30" x2="230.40" y2="481.80" stroke="#555" stroke-width="1" />
<line x1="264.10" y1="479.30" x2="264.10" y2="481.80" stroke="#555" stroke-width="1" />
<line x1="179.85" y1="479.30" x2="179.85" y2="480.80" stroke="#555" stroke-width="1" />
<line x1="213.55" y1="479.30" x2="213.55" y2="480.80" stroke="#555" stroke-width="1" />
<line x1="247.25" y1="479.30" x2="247.25" y2="480.80" stroke="#555" stroke-width="1" />
<text x="141.60" y="375.90" font-size="9.5" fill="#1c1c1c" font-weight="bold" font-family="'Liberation Sans', Arial, Helvetica, sans-serif" text-anchor="end" stroke="#1c1c1c" stroke-width="0.3" >0</text>
<text x="141.60" y="411.60" font-size="9.5" fill="#1c1c1c" font-weight="bold" font-family="'Liberation Sans', Arial, Helvetica, sans-serif" text-anchor="end" stroke="#1c1c1c" stroke-width="0.3" >-200</text>
<text x="141.60" y="447.30" font-size="9.5" fill="#1c1c1c" font-weight="bold" font-family="'Liberation Sans', Arial, Helvetica, sans-serif" text-anchor="end" stroke="#1c1c1c" stroke-width="0.3" >-400</text>
<text x="141.60" y="483.00" font-size="9.5" fill="#1c1c1c" font-weight="bold" font-family="'Liberation Sans', Arial, Helvetica, sans-serif" text-anchor="end" stroke="#1c1c1c" stroke-width="0.3" >-600</text>
<text x="163.00" y="492.00" font-size="9.5" fill="#1c1c1c" font-weight="bold" font-family="'Liberation Sans', Arial, Helvetica, sans-serif" text-anchor="middle" stroke="#1c1c1c" stroke-width="0.3" >-0.3</text>
<text x="196.70" y="492.00" font-size="9.5" fill="#1c1c1c" font-weight="bold" font-family="'Liberation Sans', Arial, Helvetica, sans-serif" text-anchor="middle" stroke="#1c1c1c" stroke-width="0.3" >-0.2</text>
<text x="230.40" y="492.00" font-size="9.5" fill="#1c1c1c" font-weight="bold" font-family="'Liberation Sans', Arial, Helvetica, sans-serif" text-anchor="middle" stroke="#1c1c1c" stroke-width="0.3" >-0.1</text>
<text x="264.10" y="492.00" font-size="9.5" fill="#1c1c1c" font-weight="bold" font-family="'Liberation Sans', Arial, Helvetica, sans-serif" text-anchor="middle" stroke="#1c1c1c" stroke-width="0.3" >0.0</text>
<text x="154.90" y="508.50" font-size="11" fill="#1c1c1c" font-weight="bold" font-family="'Liberation Sans', Arial, Helvetica, sans-serif" textLength="116.50" lengthAdjust="spacingAndGlyphs" stroke="#1c1c1c" stroke-width="0.3" >Potential (V vs. RHE)</text>
<text x="113.20" y="506.00" font-size="11" fill="#1c1c1c" font-weight="bold" font-family="'Liberation Sans', Arial, Helvetica, sans-serif" textLength="146.50" lengthAdjust="spacingAndGlyphs" transform="rotate(-90.00 113.20 506.00)" stroke="#1c1c1c" stroke-width="0.3" >Current density ( mA cm<tspan dy="-6.82" font-size="6.27">-2</tspan><tspan dy="6.82">)</tspan></text>
<line x1="197.50" y1="458.20" x2="216.00" y2="458.20" stroke="#e6b488" stroke-width="1.8" />
<line x1="197.50" y1="467.70" x2="216.00" y2="467.70" stroke="#555555" stroke-width="1.4" />
<text x="218.70" y="461.20" font-size="8.5" fill="#1c1c1c" font-weight="bold" font-family="'Liberation Sans', Arial, Helvetica, sans-serif" textLength="59.00" lengthAdjust="spacingAndGlyphs" stroke="#1c1c1c" stroke-width="0.3" >Before stability</text>
<text x="218.70" y="470.60" font-size="8.5" fill="#1c1c1c" font-weight="bold" font-family="'Liberation Sans', Arial, Helvetica, sans-serif" textLength="52.30" lengthAdjust="spacingAndGlyphs" stroke="#1c1c1c" stroke-width="0.3" >After stability</text>
<text x="333.10" y="300.20" font-size="25" fill="#1c1c1c" font-weight="bold" font-family="'Liberation Sans', Arial, Helvetica, sans-serif" stroke="#1c1c1c" stroke-width="0.3" >(e)</text>
<path d="M400.60,519.00 C400.88,517.75 401.63,513.77 402.30,511.50 C402.97,509.23 403.73,507.40 404.60,505.40 C405.47,503.40 406.50,501.32 407.50,499.50 C408.50,497.68 409.25,496.22 410.60,494.50 C411.95,492.78 413.68,490.68 415.60,489.20 C417.52,487.72 419.65,486.37 422.10,485.60 C424.55,484.83 427.77,484.50 430.30,484.60 C432.83,484.70 435.05,485.25 437.30,486.20 C439.55,487.15 441.92,488.72 443.80,490.30 C445.68,491.88 447.47,493.78 448.60,495.70 C449.73,497.62 450.27,500.78 450.60,501.80" fill="none" stroke="#1f8a45" stroke-width="3.4" stroke-linecap="square" stroke-linejoin="round"/>
<rect x="398.30" y="516.70" width="4.6" height="4.6" fill="#1f8a45"/>
<rect x="398.92" y="513.76" width="4.6" height="4.6" fill="#1f8a45"/>
<rect x="399.49" y="511.15" width="4.6" height="4.6" fill="#1f8a45"/>
<rect x="400.20" y="508.53" width="4.6" height="4.6" fill="#1f8a45"/>
<rect x="401.07" y="506.05" width="4.6" height="4.6" fill="#1f8a45"/>
<rect x="402.17" y="503.40" width="4.6" height="4.6" fill="#1f8a45"/>
<rect x="403.26" y="500.98" width="4.6" height="4.6" fill="#1f8a45"/>
<rect x="404.45" y="498.61" width="4.6" height="4.6" fill="#1f8a45"/>
<rect x="405.78" y="496.15" width="4.6" height="4.6" fill="#1f8a45"/>
<rect x="407.22" y="493.69" width="4.6" height="4.6" fill="#1f8a45"/>
<rect x="408.93" y="491.41" width="4.6" height="4.6" fill="#1f8a45"/>
<rect x="410.84" y="489.19" width="4.6" height="4.6" fill="#1f8a45"/>
<rect x="412.73" y="487.36" width="4.6" height="4.6" fill="#1f8a45"/>
<rect x="415.09" y="485.61" width="4.6" height="4.6" fill="#1f8a45"/>
<rect x="417.34" y="484.30" width="4.6" height="4.6" fill="#1f8a45"/>
<rect x="419.80" y="483.30" width="4.6" height="4.6" fill="#1f8a45"/>
<rect x="422.59" y="482.65" width="4.6" height="4.6" fill="#1f8a45"/>
<rect x="425.57" y="482.33" width="4.6" height="4.6" fill="#1f8a45"/>
<rect x="428.38" y="482.32" width="4.6" height="4.6" fill="#1f8a45"/>
<rect x="431.26" y="482.70" width="4.6" height="4.6" fill="#1f8a45"/>
<rect x="433.99" y="483.50" width="4.6" height="4.6" fill="#1f8a45"/>
<rect x="436.70" y="484.72" width="4.6" height="4.6" fill="#1f8a45"/>
<rect x="439.05" y="486.15" width="4.6" height="4.6" fill="#1f8a45"/>
<rect x="441.21" y="487.76" width="4.6" height="4.6" fill="#1f8a45"/>
<rect x="443.15" y="489.50" width="4.6" height="4.6" fill="#1f8a45"/>
<rect x="445.12" y="491.69" width="4.6" height="4.6" fill="#1f8a45"/>
<rect x="446.62" y="494.01" width="4.6" height="4.6" fill="#1f8a45"/>
<rect x="447.60" y="496.79" width="4.6" height="4.6" fill="#1f8a45"/>
<rect x="448.25" y="499.33" width="4.6" height="4.6" fill="#1f8a45"/>
<path d="M405.80,519.50 C406.20,517.08 407.28,509.58 408.20,505.00 C409.12,500.42 410.23,496.17 411.30,492.00 C412.37,487.83 413.55,483.95 414.60,480.00 C415.65,476.05 416.62,471.80 417.60,468.30 C418.58,464.80 419.52,461.80 420.50,459.00 C421.48,456.20 422.38,454.00 423.50,451.50 C424.62,449.00 425.78,446.58 427.20,444.00 C428.62,441.42 430.12,439.80 432.00,436.00 C433.88,432.20 435.73,426.28 438.50,421.20 C441.27,416.12 444.87,410.57 448.60,405.50 C452.33,400.43 456.43,395.52 460.90,390.80 C465.37,386.08 470.20,381.22 475.40,377.20 C480.60,373.18 485.83,369.48 492.10,366.70 C498.37,363.92 506.37,361.63 513.00,360.50 C519.63,359.37 525.53,359.32 531.90,359.90 C538.27,360.48 545.02,361.78 551.20,364.00 C557.38,366.22 563.07,369.40 569.00,373.20 C574.93,377.00 581.37,381.77 586.80,386.80 C592.23,391.83 597.40,397.67 601.60,403.40 C605.80,409.13 608.78,415.27 612.00,421.20 C615.22,427.13 618.42,433.05 620.90,439.00 C623.38,444.95 625.17,450.95 626.90,456.90 C628.63,462.85 629.82,468.77 631.30,474.70 C632.78,480.63 634.57,486.07 635.80,492.50 C637.03,498.93 638.12,508.80 638.70,513.30 C639.28,517.80 639.20,518.47 639.30,519.50" fill="none" stroke="#ec9a3c" stroke-width="1.8" stroke-linejoin="round" stroke-linecap="round" />
<polygon points="405.80,513.71 402.40,519.83 409.20,519.83" fill="#ec9a3c"/>
<polygon points="406.40,510.21 403.00,516.33 409.80,516.33" fill="#ec9a3c"/>
<polygon points="407.00,506.71 403.60,512.83 410.40,512.83" fill="#ec9a3c"/>
<polygon points="407.70,503.21 404.30,509.33 411.10,509.33" fill="#ec9a3c"/>
<polygon points="408.40,499.71 405.00,505.83 411.80,505.83" fill="#ec9a3c"/>
<polygon points="409.20,496.21 405.80,502.33 412.60,502.33" fill="#ec9a3c"/>
<polygon points="410.10,492.71 406.70,498.83 413.50,498.83" fill="#ec9a3c"/>
<polygon points="411.00,489.21 407.60,495.33 414.40,495.33" fill="#ec9a3c"/>
<polygon points="412.00,485.71 408.60,491.83 415.40,491.83" fill="#ec9a3c"/>
<polygon points="413.00,482.21 409.60,488.33 416.40,488.33" fill="#ec9a3c"/>
<polygon points="414.10,478.71 410.70,484.83 417.50,484.83" fill="#ec9a3c"/>
<polygon points="415.30,475.21 411.90,481.33 418.70,481.33" fill="#ec9a3c"/>
<polygon points="416.60,471.71 413.20,477.83 420.00,477.83" fill="#ec9a3c"/>
<polygon points="418.00,467.71 414.60,473.83 421.40,473.83" fill="#ec9a3c"/>
<polygon points="419.80,462.21 416.40,468.33 423.20,468.33" fill="#ec9a3c"/>
<polygon points="422.00,455.71 418.60,461.83 425.40,461.83" fill="#ec9a3c"/>
<polygon points="425.00,448.21 421.60,454.33 428.40,454.33" fill="#ec9a3c"/>
<polygon points="428.50,440.71 425.10,446.83 431.90,446.83" fill="#ec9a3c"/>
<polygon points="432.40,431.71 429.00,437.83 435.80,437.83" fill="#ec9a3c"/>
<polygon points="438.80,418.21 435.40,424.33 442.20,424.33" fill="#ec9a3c"/>
<polygon points="449.00,402.31 445.60,408.43 452.40,408.43" fill="#ec9a3c"/>
<polygon points="461.00,388.11 457.60,394.23 464.40,394.23" fill="#ec9a3c"/>
<polygon points="475.40,374.01 472.00,380.13 478.80,380.13" fill="#ec9a3c"/>
<polygon points="492.70,363.41 489.30,369.53 496.10,369.53" fill="#ec9a3c"/>
<polygon points="512.60,356.71 509.20,362.83 516.00,362.83" fill="#ec9a3c"/>
<polygon points="531.90,356.21 528.50,362.33 535.30,362.33" fill="#ec9a3c"/>
<polygon points="551.20,360.21 547.80,366.33 554.60,366.33" fill="#ec9a3c"/>
<polygon points="569.90,369.01 566.50,375.13 573.30,375.13" fill="#ec9a3c"/>
<polygon points="586.80,382.71 583.40,388.83 590.20,388.83" fill="#ec9a3c"/>
<polygon points="601.60,399.61 598.20,405.73 605.00,405.73" fill="#ec9a3c"/>
<polygon points="612.00,417.41 608.60,423.53 615.40,423.53" fill="#ec9a3c"/>
<polygon points="619.40,433.81 616.00,439.93 622.80,439.93" fill="#ec9a3c"/>
<polygon points="625.40,450.11 622.00,456.23 628.80,456.23" fill="#ec9a3c"/>
<polygon points="628.30,460.71 624.90,466.83 631.70,466.83" fill="#ec9a3c"/>
<polygon points="630.30,469.21 626.90,475.33 633.70,475.33" fill="#ec9a3c"/>
<polygon points="631.80,475.21 628.40,481.33 635.20,481.33" fill="#ec9a3c"/>
<polygon points="633.00,481.21 629.60,487.33 636.40,487.33" fill="#ec9a3c"/>
<polygon points="634.00,486.71 630.60,492.83 637.40,492.83" fill="#ec9a3c"/>
<polygon points="634.90,491.71 631.50,497.83 638.30,497.83" fill="#ec9a3c"/>
<polygon points="635.70,496.21 632.30,502.33 639.10,502.33" fill="#ec9a3c"/>
<polygon points="636.40,500.21 633.00,506.33 639.80,506.33" fill="#ec9a3c"/>
<polygon points="637.00,504.21 633.60,510.33 640.40,510.33" fill="#ec9a3c"/>
<polygon points="637.60,507.71 634.20,513.83 641.00,513.83" fill="#ec9a3c"/>
<polygon points="638.20,511.21 634.80,517.33 641.60,517.33" fill="#ec9a3c"/>
<polygon points="638.70,514.21 635.30,520.33 642.10,520.33" fill="#ec9a3c"/>
<path d="M406.90,519.00 C407.17,517.17 407.85,511.67 408.50,508.00 C409.15,504.33 409.97,500.50 410.80,497.00 C411.63,493.50 412.60,490.17 413.50,487.00 C414.40,483.83 415.28,481.08 416.20,478.00 C417.12,474.92 418.53,470.08 419.00,468.50" fill="none" stroke="#ec9a3c" stroke-width="4.6" stroke-linecap="round"/>
<path d="M631.30,476.00 C631.65,477.83 632.75,483.50 633.40,487.00 C634.05,490.50 634.63,493.67 635.20,497.00 C635.77,500.33 636.28,503.50 636.80,507.00 C637.32,510.50 638.05,516.17 638.30,518.00" fill="none" stroke="#ec9a3c" stroke-width="4.2" stroke-linecap="round"/>
<rect x="394.00" y="309.80" width="258.30" height="209.90" fill="none" stroke="#1c1c1c" stroke-width="1.8"/>
<line x1="390.50" y1="519.90" x2="394.00" y2="519.90" stroke="#1c1c1c" stroke-width="1.3" />
<line x1="390.50" y1="477.90" x2="394.00" y2="477.90" stroke="#1c1c1c" stroke-width="1.3" />
<line x1="390.50" y1="435.90" x2="394.00" y2="435.90" stroke="#1c1c1c" stroke-width="1.3" />
<line x1="390.50" y1="393.90" x2="394.00" y2="393.90" stroke="#1c1c1c" stroke-width="1.3" />
<line x1="390.50" y1="351.90" x2="394.00" y2="351.90" stroke="#1c1c1c" stroke-width="1.3" />
<line x1="390.50" y1="309.90" x2="394.00" y2="309.90" stroke="#1c1c1c" stroke-width="1.3" />
<line x1="391.80" y1="498.90" x2="394.00" y2="498.90" stroke="#1c1c1c" stroke-width="1.3" />
<line x1="391.80" y1="456.90" x2="394.00" y2="456.90" stroke="#1c1c1c" stroke-width="1.3" />
<line x1="391.80" y1="414.90" x2="394.00" y2="414.90" stroke="#1c1c1c" stroke-width="1.3" />
<line x1="391.80" y1="372.90" x2="394.00" y2="372.90" stroke="#1c1c1c" stroke-width="1.3" />
<line x1="391.80" y1="330.90" x2="394.00" y2="330.90" stroke="#1c1c1c" stroke-width="1.3" />
<line x1="394.00" y1="519.70" x2="394.00" y2="523.20" stroke="#1c1c1c" stroke-width="1.3" />
<line x1="445.66" y1="519.70" x2="445.66" y2="523.20" stroke="#1c1c1c" stroke-width="1.3" />
<line x1="497.32" y1="519.70" x2="497.32" y2="523.20" stroke="#1c1c1c" stroke-width="1.3" />
<line x1="548.98" y1="519.70" x2="548.98" y2="523.20" stroke="#1c1c1c" stroke-width="1.3" />
<line x1="600.64" y1="519.70" x2="600.64" y2="523.20" stroke="#1c1c1c" stroke-width="1.3" />
<line x1="652.30" y1="519.70" x2="652.30" y2="523.20" stroke="#1c1c1c" stroke-width="1.3" />
<line x1="419.83" y1="519.70" x2="419.83" y2="521.90" stroke="#1c1c1c" stroke-width="1.3" />
<line x1="471.49" y1="519.70" x2="471.49" y2="521.90" stroke="#1c1c1c" stroke-width="1.3" />
<line x1="523.15" y1="519.70" x2="523.15" y2="521.90" stroke="#1c1c1c" stroke-width="1.3" />
<line x1="574.81" y1="519.70" x2="574.81" y2="521.90" stroke="#1c1c1c" stroke-width="1.3" />
<line x1="626.47" y1="519.70" x2="626.47" y2="521.90" stroke="#1c1c1c" stroke-width="1.3" />
<text x="388.60" y="524.60" font-size="14" fill="#1c1c1c" font-weight="bold" font-family="'Liberation Sans', Arial, Helvetica, sans-serif" text-anchor="end" stroke="#1c1c1c" stroke-width="0.3" >0.0</text>
<text x="388.60" y="482.60" font-size="14" fill="#1c1c1c" font-weight="bold" font-family="'Liberation Sans', Arial, Helvetica, sans-serif" text-anchor="end" stroke="#1c1c1c" stroke-width="0.3" >0.5</text>
<text x="388.60" y="440.60" font-size="14" fill="#1c1c1c" font-weight="bold" font-family="'Liberation Sans', Arial, Helvetica, sans-serif" text-anchor="end" stroke="#1c1c1c" stroke-width="0.3" >1.0</text>
<text x="388.60" y="398.60" font-size="14" fill="#1c1c1c" font-weight="bold" font-family="'Liberation Sans', Arial, Helvetica, sans-serif" text-anchor="end" stroke="#1c1c1c" stroke-width="0.3" >1.5</text>
<text x="388.60" y="356.60" font-size="14" fill="#1c1c1c" font-weight="bold" font-family="'Liberation Sans', Arial, Helvetica, sans-serif" text-anchor="end" stroke="#1c1c1c" stroke-width="0.3" >2.0</text>
<text x="388.60" y="314.60" font-size="14" fill="#1c1c1c" font-weight="bold" font-family="'Liberation Sans', Arial, Helvetica, sans-serif" text-anchor="end" stroke="#1c1c1c" stroke-width="0.3" >2.5</text>
<text x="394.00" y="537.70" font-size="14" fill="#1c1c1c" font-weight="bold" font-family="'Liberation Sans', Arial, Helvetica, sans-serif" text-anchor="middle" stroke="#1c1c1c" stroke-width="0.3" >1</text>
<text x="445.66" y="537.70" font-size="14" fill="#1c1c1c" font-weight="bold" font-family="'Liberation Sans', Arial, Helvetica, sans-serif" text-anchor="middle" stroke="#1c1c1c" stroke-width="0.3" >2</text>
<text x="497.32" y="537.70" font-size="14" fill="#1c1c1c" font-weight="bold" font-family="'Liberation Sans', Arial, Helvetica, sans-serif" text-anchor="middle" stroke="#1c1c1c" stroke-width="0.3" >3</text>
<text x="548.98" y="537.70" font-size="14" fill="#1c1c1c" font-weight="bold" font-family="'Liberation Sans', Arial, Helvetica, sans-serif" text-anchor="middle" stroke="#1c1c1c" stroke-width="0.3" >4</text>
<text x="600.64" y="537.70" font-size="14" fill="#1c1c1c" font-weight="bold" font-family="'Liberation Sans', Arial, Helvetica, sans-serif" text-anchor="middle" stroke="#1c1c1c" stroke-width="0.3" >5</text>
<text x="652.30" y="537.70" font-size="14" fill="#1c1c1c" font-weight="bold" font-family="'Liberation Sans', Arial, Helvetica, sans-serif" text-anchor="middle" stroke="#1c1c1c" stroke-width="0.3" >6</text>
<text x="487.20" y="558.00" font-size="18" fill="#1c1c1c" font-weight="bold" font-family="'Liberation Sans', Arial, Helvetica, sans-serif" textLength="71.00" lengthAdjust="spacingAndGlyphs" stroke="#1c1c1c" stroke-width="0.3" >Z' (ohm)</text>
<text x="357.50" y="462.60" font-size="18" fill="#1c1c1c" font-weight="bold" font-family="'Liberation Sans', Arial, Helvetica, sans-serif" textLength="86.10" lengthAdjust="spacingAndGlyphs" transform="rotate(-90.00 357.50 462.60)" stroke="#1c1c1c" stroke-width="0.3" >- Z'' (ohm)</text>
<rect x="522.4" y="319.3" width="5" height="5" fill="#2a8a3e"/>
<polygon points="524.90,339.08 522.10,344.12 527.70,344.12" fill="#ec9a3c"/>
<text x="543.80" y="326.00" font-size="11.4" fill="#1c1c1c" font-weight="bold" font-family="'Liberation Sans', Arial, Helvetica, sans-serif" textLength="104.40" lengthAdjust="spacingAndGlyphs" stroke="#1c1c1c" stroke-width="0.3" >MoSe<tspan dy="4.10" font-size="6.50">2</tspan><tspan dy="-4.10">@NiCo</tspan><tspan dy="4.10" font-size="6.50">2</tspan><tspan dy="-4.10">Se</tspan><tspan dy="4.10" font-size="6.50">4</tspan></text>
<text x="543.80" y="346.80" font-size="11.4" fill="#1c1c1c" font-weight="bold" font-family="'Liberation Sans', Arial, Helvetica, sans-serif" textLength="102.20" lengthAdjust="spacingAndGlyphs" stroke="#1c1c1c" stroke-width="0.3" >MoO<tspan dy="4.10" font-size="6.50">3</tspan><tspan dy="-4.10">/Ni-Co(OH)</tspan><tspan dy="4.10" font-size="6.50">2</tspan></text>
<text x="666.60" y="302.10" font-size="25" fill="#1c1c1c" font-weight="bold" font-family="'Liberation Sans', Arial, Helvetica, sans-serif" stroke="#1c1c1c" stroke-width="0.3" >(f)</text>
<g filter="url(#fb)">
<polygon points="751,397.3 933.4,398.8 957.5,423.4 735.8,430.6" fill="url(#gPl)"/>
<ellipse cx="786" cy="424" rx="4.5" ry="1.6" fill="#22366e" opacity="0.75"/>
<ellipse cx="820" cy="417" rx="4.5" ry="1.6" fill="#22366e" opacity="0.75"/>
<ellipse cx="846" cy="425" rx="4.5" ry="1.6" fill="#22366e" opacity="0.75"/>
<ellipse cx="877" cy="416" rx="4.5" ry="1.6" fill="#22366e" opacity="0.75"/>
<ellipse cx="910" cy="421" rx="4.5" ry="1.6" fill="#22366e" opacity="0.75"/>
<ellipse cx="770" cy="427" rx="4.5" ry="1.6" fill="#22366e" opacity="0.75"/>
<ellipse cx="858" cy="414" rx="4.5" ry="1.6" fill="#22366e" opacity="0.75"/>
<ellipse cx="928" cy="416" rx="4.5" ry="1.6" fill="#22366e" opacity="0.75"/>
<ellipse cx="800" cy="422" rx="4.5" ry="1.6" fill="#22366e" opacity="0.75"/>
<ellipse cx="893" cy="423" rx="4.5" ry="1.6" fill="#22366e" opacity="0.75"/>
<rect x="769.90" y="313.26" width="21.00" height="101.88" rx="3" fill="#5a5018"/>
<rect x="776.40" y="311.34" width="8.0" height="105.72" fill="#2f6258"/>
<ellipse cx="780.40" cy="318.07" rx="4.00" ry="3.36" fill="url(#gC)"/>
<ellipse cx="780.40" cy="329.60" rx="4.00" ry="3.36" fill="url(#gC)"/>
<ellipse cx="780.40" cy="341.13" rx="4.00" ry="3.36" fill="url(#gC)"/>
<ellipse cx="780.40" cy="352.67" rx="4.00" ry="3.36" fill="url(#gC)"/>
<ellipse cx="780.40" cy="364.20" rx="4.00" ry="3.36" fill="url(#gC)"/>
<ellipse cx="780.40" cy="375.73" rx="4.00" ry="3.36" fill="url(#gC)"/>
<ellipse cx="780.40" cy="387.27" rx="4.00" ry="3.36" fill="url(#gC)"/>
<ellipse cx="780.40" cy="398.80" rx="4.00" ry="3.36" fill="url(#gC)"/>
<ellipse cx="780.40" cy="410.33" rx="4.00" ry="3.36" fill="url(#gC)"/>
<ellipse cx="780.40" cy="421.87" rx="4.00" ry="3.36" fill="url(#gC)"/>
<ellipse cx="773.10" cy="313.60" rx="6.0" ry="4.8" transform="rotate(35 773.10 313.60)" fill="#4a3e0c" />
<ellipse cx="787.70" cy="313.60" rx="6.0" ry="4.8" transform="rotate(-35 787.70 313.60)" fill="#4a3e0c" />
<ellipse cx="773.10" cy="325.13" rx="6.0" ry="4.8" transform="rotate(35 773.10 325.13)" fill="#4a3e0c" />
<ellipse cx="787.70" cy="325.13" rx="6.0" ry="4.8" transform="rotate(-35 787.70 325.13)" fill="#4a3e0c" />
<ellipse cx="773.10" cy="336.67" rx="6.0" ry="4.8" transform="rotate(35 773.10 336.67)" fill="#4a3e0c" />
<ellipse cx="787.70" cy="336.67" rx="6.0" ry="4.8" transform="rotate(-35 787.70 336.67)" fill="#4a3e0c" />
<ellipse cx="773.10" cy="348.20" rx="6.0" ry="4.8" transform="rotate(35 773.10 348.20)" fill="#4a3e0c" />
<ellipse cx="787.70" cy="348.20" rx="6.0" ry="4.8" transform="rotate(-35 787.70 348.20)" fill="#4a3e0c" />
<ellipse cx="773.10" cy="359.73" rx="6.0" ry="4.8" transform="rotate(35 773.10 359.73)" fill="#4a3e0c" />
<ellipse cx="787.70" cy="359.73" rx="6.0" ry="4.8" transform="rotate(-35 787.70 359.73)" fill="#4a3e0c" />
<ellipse cx="773.10" cy="371.27" rx="6.0" ry="4.8" transform="rotate(35 773.10 371.27)" fill="#4a3e0c" />
<ellipse cx="787.70" cy="371.27" rx="6.0" ry="4.8" transform="rotate(-35 787.70 371.27)" fill="#4a3e0c" />
<ellipse cx="773.10" cy="382.80" rx="6.0" ry="4.8" transform="rotate(35 773.10 382.80)" fill="#4a3e0c" />
<ellipse cx="787.70" cy="382.80" rx="6.0" ry="4.8" transform="rotate(-35 787.70 382.80)" fill="#4a3e0c" />
<ellipse cx="773.10" cy="394.33" rx="6.0" ry="4.8" transform="rotate(35 773.10 394.33)" fill="#4a3e0c" />
<ellipse cx="787.70" cy="394.33" rx="6.0" ry="4.8" transform="rotate(-35 787.70 394.33)" fill="#4a3e0c" />
<ellipse cx="773.10" cy="405.87" rx="6.0" ry="4.8" transform="rotate(35 773.10 405.87)" fill="#4a3e0c" />
<ellipse cx="787.70" cy="405.87" rx="6.0" ry="4.8" transform="rotate(-35 787.70 405.87)" fill="#4a3e0c" />
<ellipse cx="773.10" cy="417.40" rx="6.0" ry="4.8" transform="rotate(35 773.10 417.40)" fill="#4a3e0c" />
<ellipse cx="787.70" cy="417.40" rx="6.0" ry="4.8" transform="rotate(-35 787.70 417.40)" fill="#4a3e0c" />
<ellipse cx="772.60" cy="312.10" rx="5.6" ry="4.2" transform="rotate(35 772.60 312.10)" fill="url(#gY)" />
<ellipse cx="788.20" cy="312.10" rx="5.6" ry="4.2" transform="rotate(-35 788.20 312.10)" fill="url(#gY)" />
<ellipse cx="772.60" cy="323.63" rx="5.6" ry="4.2" transform="rotate(35 772.60 323.63)" fill="url(#gY)" />
<ellipse cx="788.20" cy="323.63" rx="5.6" ry="4.2" transform="rotate(-35 788.20 323.63)" fill="url(#gY)" />
<ellipse cx="772.60" cy="335.17" rx="5.6" ry="4.2" transform="rotate(35 772.60 335.17)" fill="url(#gY)" />
<ellipse cx="788.20" cy="335.17" rx="5.6" ry="4.2" transform="rotate(-35 788.20 335.17)" fill="url(#gY)" />
<ellipse cx="772.60" cy="346.70" rx="5.6" ry="4.2" transform="rotate(35 772.60 346.70)" fill="url(#gY)" />
<ellipse cx="788.20" cy="346.70" rx="5.6" ry="4.2" transform="rotate(-35 788.20 346.70)" fill="url(#gY)" />
<ellipse cx="772.60" cy="358.23" rx="5.6" ry="4.2" transform="rotate(35 772.60 358.23)" fill="url(#gY)" />
<ellipse cx="788.20" cy="358.23" rx="5.6" ry="4.2" transform="rotate(-35 788.20 358.23)" fill="url(#gY)" />
<ellipse cx="772.60" cy="369.77" rx="5.6" ry="4.2" transform="rotate(35 772.60 369.77)" fill="url(#gY)" />
<ellipse cx="788.20" cy="369.77" rx="5.6" ry="4.2" transform="rotate(-35 788.20 369.77)" fill="url(#gY)" />
<ellipse cx="772.60" cy="381.30" rx="5.6" ry="4.2" transform="rotate(35 772.60 381.30)" fill="url(#gY)" />
<ellipse cx="788.20" cy="381.30" rx="5.6" ry="4.2" transform="rotate(-35 788.20 381.30)" fill="url(#gY)" />
<ellipse cx="772.60" cy="392.83" rx="5.6" ry="4.2" transform="rotate(35 772.60 392.83)" fill="url(#gY)" />
<ellipse cx="788.20" cy="392.83" rx="5.6" ry="4.2" transform="rotate(-35 788.20 392.83)" fill="url(#gY)" />
<ellipse cx="772.60" cy="404.37" rx="5.6" ry="4.2" transform="rotate(35 772.60 404.37)" fill="url(#gY)" />
<ellipse cx="788.20" cy="404.37" rx="5.6" ry="4.2" transform="rotate(-35 788.20 404.37)" fill="url(#gY)" />
<ellipse cx="772.60" cy="415.90" rx="5.6" ry="4.2" transform="rotate(35 772.60 415.90)" fill="url(#gY)" />
<ellipse cx="788.20" cy="415.90" rx="5.6" ry="4.2" transform="rotate(-35 788.20 415.90)" fill="url(#gY)" />
<rect x="805.62" y="306.46" width="17.56" height="100.58" rx="3" fill="#5a5018"/>
<rect x="810.90" y="304.14" width="7.0" height="105.22" fill="#2f6258"/>
<ellipse cx="814.40" cy="311.02" rx="3.50" ry="2.94" fill="url(#gC)"/>
<ellipse cx="814.40" cy="322.45" rx="3.50" ry="2.94" fill="url(#gC)"/>
<ellipse cx="814.40" cy="333.88" rx="3.50" ry="2.94" fill="url(#gC)"/>
<ellipse cx="814.40" cy="345.32" rx="3.50" ry="2.94" fill="url(#gC)"/>
<ellipse cx="814.40" cy="356.75" rx="3.50" ry="2.94" fill="url(#gC)"/>
<ellipse cx="814.40" cy="368.18" rx="3.50" ry="2.94" fill="url(#gC)"/>
<ellipse cx="814.40" cy="379.62" rx="3.50" ry="2.94" fill="url(#gC)"/>
<ellipse cx="814.40" cy="391.05" rx="3.50" ry="2.94" fill="url(#gC)"/>
<ellipse cx="814.40" cy="402.48" rx="3.50" ry="2.94" fill="url(#gC)"/>
<ellipse cx="814.40" cy="413.92" rx="3.50" ry="2.94" fill="url(#gC)"/>
<ellipse cx="808.10" cy="306.60" rx="4.4" ry="5.8" transform="rotate(0 808.10 306.60)" fill="#4a3e0c" />
<ellipse cx="820.70" cy="306.60" rx="4.4" ry="5.8" transform="rotate(0 820.70 306.60)" fill="#4a3e0c" />
<ellipse cx="808.10" cy="318.03" rx="4.4" ry="5.8" transform="rotate(0 808.10 318.03)" fill="#4a3e0c" />
<ellipse cx="820.70" cy="318.03" rx="4.4" ry="5.8" transform="rotate(0 820.70 318.03)" fill="#4a3e0c" />
<ellipse cx="808.10" cy="329.47" rx="4.4" ry="5.8" transform="rotate(0 808.10 329.47)" fill="#4a3e0c" />
<ellipse cx="820.70" cy="329.47" rx="4.4" ry="5.8" transform="rotate(0 820.70 329.47)" fill="#4a3e0c" />
<ellipse cx="808.10" cy="340.90" rx="4.4" ry="5.8" transform="rotate(0 808.10 340.90)" fill="#4a3e0c" />
<ellipse cx="820.70" cy="340.90" rx="4.4" ry="5.8" transform="rotate(0 820.70 340.90)" fill="#4a3e0c" />
<ellipse cx="808.10" cy="352.33" rx="4.4" ry="5.8" transform="rotate(0 808.10 352.33)" fill="#4a3e0c" />
<ellipse cx="820.70" cy="352.33" rx="4.4" ry="5.8" transform="rotate(0 820.70 352.33)" fill="#4a3e0c" />
<ellipse cx="808.10" cy="363.77" rx="4.4" ry="5.8" transform="rotate(0 808.10 363.77)" fill="#4a3e0c" />
<ellipse cx="820.70" cy="363.77" rx="4.4" ry="5.8" transform="rotate(0 820.70 363.77)" fill="#4a3e0c" />
<ellipse cx="808.10" cy="375.20" rx="4.4" ry="5.8" transform="rotate(0 808.10 375.20)" fill="#4a3e0c" />
<ellipse cx="820.70" cy="375.20" rx="4.4" ry="5.8" transform="rotate(0 820.70 375.20)" fill="#4a3e0c" />
<ellipse cx="808.10" cy="386.63" rx="4.4" ry="5.8" transform="rotate(0 808.10 386.63)" fill="#4a3e0c" />
<ellipse cx="820.70" cy="386.63" rx="4.4" ry="5.8" transform="rotate(0 820.70 386.63)" fill="#4a3e0c" />
<ellipse cx="808.10" cy="398.07" rx="4.4" ry="5.8" transform="rotate(0 808.10 398.07)" fill="#4a3e0c" />
<ellipse cx="820.70" cy="398.07" rx="4.4" ry="5.8" transform="rotate(0 820.70 398.07)" fill="#4a3e0c" />
<ellipse cx="808.10" cy="409.50" rx="4.4" ry="5.8" transform="rotate(0 808.10 409.50)" fill="#4a3e0c" />
<ellipse cx="820.70" cy="409.50" rx="4.4" ry="5.8" transform="rotate(0 820.70 409.50)" fill="#4a3e0c" />
<ellipse cx="807.60" cy="305.10" rx="4.0" ry="5.2" transform="rotate(0 807.60 305.10)" fill="url(#gY)" />
<ellipse cx="821.20" cy="305.10" rx="4.0" ry="5.2" transform="rotate(0 821.20 305.10)" fill="url(#gY)" />
<ellipse cx="807.60" cy="316.53" rx="4.0" ry="5.2" transform="rotate(0 807.60 316.53)" fill="url(#gY)" />
<ellipse cx="821.20" cy="316.53" rx="4.0" ry="5.2" transform="rotate(0 821.20 316.53)" fill="url(#gY)" />
<ellipse cx="807.60" cy="327.97" rx="4.0" ry="5.2" transform="rotate(0 807.60 327.97)" fill="url(#gY)" />
<ellipse cx="821.20" cy="327.97" rx="4.0" ry="5.2" transform="rotate(0 821.20 327.97)" fill="url(#gY)" />
<ellipse cx="807.60" cy="339.40" rx="4.0" ry="5.2" transform="rotate(0 807.60 339.40)" fill="url(#gY)" />
<ellipse cx="821.20" cy="339.40" rx="4.0" ry="5.2" transform="rotate(0 821.20 339.40)" fill="url(#gY)" />
<ellipse cx="807.60" cy="350.83" rx="4.0" ry="5.2" transform="rotate(0 807.60 350.83)" fill="url(#gY)" />
<ellipse cx="821.20" cy="350.83" rx="4.0" ry="5.2" transform="rotate(0 821.20 350.83)" fill="url(#gY)" />
<ellipse cx="807.60" cy="362.27" rx="4.0" ry="5.2" transform="rotate(0 807.60 362.27)" fill="url(#gY)" />
<ellipse cx="821.20" cy="362.27" rx="4.0" ry="5.2" transform="rotate(0 821.20 362.27)" fill="url(#gY)" />
<ellipse cx="807.60" cy="373.70" rx="4.0" ry="5.2" transform="rotate(0 807.60 373.70)" fill="url(#gY)" />
<ellipse cx="821.20" cy="373.70" rx="4.0" ry="5.2" transform="rotate(0 821.20 373.70)" fill="url(#gY)" />
<ellipse cx="807.60" cy="385.13" rx="4.0" ry="5.2" transform="rotate(0 807.60 385.13)" fill="url(#gY)" />
<ellipse cx="821.20" cy="385.13" rx="4.0" ry="5.2" transform="rotate(0 821.20 385.13)" fill="url(#gY)" />
<ellipse cx="807.60" cy="396.57" rx="4.0" ry="5.2" transform="rotate(0 807.60 396.57)" fill="url(#gY)" />
<ellipse cx="821.20" cy="396.57" rx="4.0" ry="5.2" transform="rotate(0 821.20 396.57)" fill="url(#gY)" />
<ellipse cx="807.60" cy="408.00" rx="4.0" ry="5.2" transform="rotate(0 807.60 408.00)" fill="url(#gY)" />
<ellipse cx="821.20" cy="408.00" rx="4.0" ry="5.2" transform="rotate(0 821.20 408.00)" fill="url(#gY)" />
<rect x="836.71" y="315.22" width="21.18" height="100.16" rx="3" fill="#5a5018"/>
<rect x="843.30" y="313.38" width="8.0" height="103.84" fill="#2f6258"/>
<ellipse cx="847.30" cy="319.97" rx="4.00" ry="3.36" fill="url(#gC)"/>
<ellipse cx="847.30" cy="331.30" rx="4.00" ry="3.36" fill="url(#gC)"/>
<ellipse cx="847.30" cy="342.63" rx="4.00" ry="3.36" fill="url(#gC)"/>
<ellipse cx="847.30" cy="353.97" rx="4.00" ry="3.36" fill="url(#gC)"/>
<ellipse cx="847.30" cy="365.30" rx="4.00" ry="3.36" fill="url(#gC)"/>
<ellipse cx="847.30" cy="376.63" rx="4.00" ry="3.36" fill="url(#gC)"/>
<ellipse cx="847.30" cy="387.97" rx="4.00" ry="3.36" fill="url(#gC)"/>
<ellipse cx="847.30" cy="399.30" rx="4.00" ry="3.36" fill="url(#gC)"/>
<ellipse cx="847.30" cy="410.63" rx="4.00" ry="3.36" fill="url(#gC)"/>
<ellipse cx="847.30" cy="421.97" rx="4.00" ry="3.36" fill="url(#gC)"/>
<ellipse cx="840.00" cy="315.60" rx="6.2" ry="4.6" transform="rotate(38 840.00 315.60)" fill="#4a3e0c" />
<ellipse cx="854.60" cy="315.60" rx="6.2" ry="4.6" transform="rotate(38 854.60 315.60)" fill="#4a3e0c" />
<ellipse cx="840.00" cy="326.93" rx="6.2" ry="4.6" transform="rotate(38 840.00 326.93)" fill="#4a3e0c" />
<ellipse cx="854.60" cy="326.93" rx="6.2" ry="4.6" transform="rotate(38 854.60 326.93)" fill="#4a3e0c" />
<ellipse cx="840.00" cy="338.27" rx="6.2" ry="4.6" transform="rotate(38 840.00 338.27)" fill="#4a3e0c" />
<ellipse cx="854.60" cy="338.27" rx="6.2" ry="4.6" transform="rotate(38 854.60 338.27)" fill="#4a3e0c" />
<ellipse cx="840.00" cy="349.60" rx="6.2" ry="4.6" transform="rotate(38 840.00 349.60)" fill="#4a3e0c" />
<ellipse cx="854.60" cy="349.60" rx="6.2" ry="4.6" transform="rotate(38 854.60 349.60)" fill="#4a3e0c" />
<ellipse cx="840.00" cy="360.93" rx="6.2" ry="4.6" transform="rotate(38 840.00 360.93)" fill="#4a3e0c" />
<ellipse cx="854.60" cy="360.93" rx="6.2" ry="4.6" transform="rotate(38 854.60 360.93)" fill="#4a3e0c" />
<ellipse cx="840.00" cy="372.27" rx="6.2" ry="4.6" transform="rotate(38 840.00 372.27)" fill="#4a3e0c" />
<ellipse cx="854.60" cy="372.27" rx="6.2" ry="4.6" transform="rotate(38 854.60 372.27)" fill="#4a3e0c" />
<ellipse cx="840.00" cy="383.60" rx="6.2" ry="4.6" transform="rotate(38 840.00 383.60)" fill="#4a3e0c" />
<ellipse cx="854.60" cy="383.60" rx="6.2" ry="4.6" transform="rotate(38 854.60 383.60)" fill="#4a3e0c" />
<ellipse cx="840.00" cy="394.93" rx="6.2" ry="4.6" transform="rotate(38 840.00 394.93)" fill="#4a3e0c" />
<ellipse cx="854.60" cy="394.93" rx="6.2" ry="4.6" transform="rotate(38 854.60 394.93)" fill="#4a3e0c" />
<ellipse cx="840.00" cy="406.27" rx="6.2" ry="4.6" transform="rotate(38 840.00 406.27)" fill="#4a3e0c" />
<ellipse cx="854.60" cy="406.27" rx="6.2" ry="4.6" transform="rotate(38 854.60 406.27)" fill="#4a3e0c" />
<ellipse cx="840.00" cy="417.60" rx="6.2" ry="4.6" transform="rotate(38 840.00 417.60)" fill="#4a3e0c" />
<ellipse cx="854.60" cy="417.60" rx="6.2" ry="4.6" transform="rotate(38 854.60 417.60)" fill="#4a3e0c" />
<ellipse cx="839.50" cy="314.10" rx="5.8" ry="3.9999999999999996" transform="rotate(38 839.50 314.10)" fill="url(#gY)" />
<ellipse cx="855.10" cy="314.10" rx="5.8" ry="3.9999999999999996" transform="rotate(38 855.10 314.10)" fill="url(#gY)" />
<ellipse cx="839.50" cy="325.43" rx="5.8" ry="3.9999999999999996" transform="rotate(38 839.50 325.43)" fill="url(#gY)" />
<ellipse cx="855.10" cy="325.43" rx="5.8" ry="3.9999999999999996" transform="rotate(38 855.10 325.43)" fill="url(#gY)" />
<ellipse cx="839.50" cy="336.77" rx="5.8" ry="3.9999999999999996" transform="rotate(38 839.50 336.77)" fill="url(#gY)" />
<ellipse cx="855.10" cy="336.77" rx="5.8" ry="3.9999999999999996" transform="rotate(38 855.10 336.77)" fill="url(#gY)" />
<ellipse cx="839.50" cy="348.10" rx="5.8" ry="3.9999999999999996" transform="rotate(38 839.50 348.10)" fill="url(#gY)" />
<ellipse cx="855.10" cy="348.10" rx="5.8" ry="3.9999999999999996" transform="rotate(38 855.10 348.10)" fill="url(#gY)" />
<ellipse cx="839.50" cy="359.43" rx="5.8" ry="3.9999999999999996" transform="rotate(38 839.50 359.43)" fill="url(#gY)" />
<ellipse cx="855.10" cy="359.43" rx="5.8" ry="3.9999999999999996" transform="rotate(38 855.10 359.43)" fill="url(#gY)" />
<ellipse cx="839.50" cy="370.77" rx="5.8" ry="3.9999999999999996" transform="rotate(38 839.50 370.77)" fill="url(#gY)" />
<ellipse cx="855.10" cy="370.77" rx="5.8" ry="3.9999999999999996" transform="rotate(38 855.10 370.77)" fill="url(#gY)" />
<ellipse cx="839.50" cy="382.10" rx="5.8" ry="3.9999999999999996" transform="rotate(38 839.50 382.10)" fill="url(#gY)" />
<ellipse cx="855.10" cy="382.10" rx="5.8" ry="3.9999999999999996" transform="rotate(38 855.10 382.10)" fill="url(#gY)" />
<ellipse cx="839.50" cy="393.43" rx="5.8" ry="3.9999999999999996" transform="rotate(38 839.50 393.43)" fill="url(#gY)" />
<ellipse cx="855.10" cy="393.43" rx="5.8" ry="3.9999999999999996" transform="rotate(38 855.10 393.43)" fill="url(#gY)" />
<ellipse cx="839.50" cy="404.77" rx="5.8" ry="3.9999999999999996" transform="rotate(38 839.50 404.77)" fill="url(#gY)" />
<ellipse cx="855.10" cy="404.77" rx="5.8" ry="3.9999999999999996" transform="rotate(38 855.10 404.77)" fill="url(#gY)" />
<ellipse cx="839.50" cy="416.10" rx="5.8" ry="3.9999999999999996" transform="rotate(38 839.50 416.10)" fill="url(#gY)" />
<ellipse cx="855.10" cy="416.10" rx="5.8" ry="3.9999999999999996" transform="rotate(38 855.10 416.10)" fill="url(#gY)" />
<ellipse cx="877.90" cy="312.97" rx="13.6" ry="5.5" transform="rotate(28 877.90 312.97)" fill="#4e420e" />
<ellipse cx="877.90" cy="324.71" rx="13.6" ry="5.5" transform="rotate(28 877.90 324.71)" fill="#4e420e" />
<ellipse cx="877.90" cy="336.46" rx="13.6" ry="5.5" transform="rotate(28 877.90 336.46)" fill="#4e420e" />
<ellipse cx="877.90" cy="348.20" rx="13.6" ry="5.5" transform="rotate(28 877.90 348.20)" fill="#4e420e" />
<ellipse cx="877.90" cy="359.95" rx="13.6" ry="5.5" transform="rotate(28 877.90 359.95)" fill="#4e420e" />
<ellipse cx="877.90" cy="371.70" rx="13.6" ry="5.5" transform="rotate(28 877.90 371.70)" fill="#4e420e" />
<ellipse cx="877.90" cy="383.44" rx="13.6" ry="5.5" transform="rotate(28 877.90 383.44)" fill="#4e420e" />
<ellipse cx="877.90" cy="395.19" rx="13.6" ry="5.5" transform="rotate(28 877.90 395.19)" fill="#4e420e" />
<ellipse cx="877.90" cy="406.93" rx="13.6" ry="5.5" transform="rotate(28 877.90 406.93)" fill="#4e420e" />
<circle cx="878.90" cy="312.67" r="4.60" fill="url(#gC)"/>
<ellipse cx="871.19" cy="307.60" rx="6.0" ry="4.6" transform="rotate(28 871.19 307.60)" fill="url(#gY)" />
<ellipse cx="884.61" cy="314.74" rx="6.0" ry="4.6" transform="rotate(28 884.61 314.74)" fill="url(#gY)" />
<circle cx="878.90" cy="324.41" r="4.60" fill="url(#gC)"/>
<ellipse cx="871.19" cy="319.35" rx="6.0" ry="4.6" transform="rotate(28 871.19 319.35)" fill="url(#gY)" />
<ellipse cx="884.61" cy="326.48" rx="6.0" ry="4.6" transform="rotate(28 884.61 326.48)" fill="url(#gY)" />
<circle cx="878.90" cy="336.16" r="4.60" fill="url(#gC)"/>
<ellipse cx="871.19" cy="331.09" rx="6.0" ry="4.6" transform="rotate(28 871.19 331.09)" fill="url(#gY)" />
<ellipse cx="884.61" cy="338.23" rx="6.0" ry="4.6" transform="rotate(28 884.61 338.23)" fill="url(#gY)" />
<circle cx="878.90" cy="347.90" r="4.60" fill="url(#gC)"/>
<ellipse cx="871.19" cy="342.84" rx="6.0" ry="4.6" transform="rotate(28 871.19 342.84)" fill="url(#gY)" />
<ellipse cx="884.61" cy="349.97" rx="6.0" ry="4.6" transform="rotate(28 884.61 349.97)" fill="url(#gY)" />
<circle cx="878.90" cy="359.65" r="4.60" fill="url(#gC)"/>
<ellipse cx="871.19" cy="354.58" rx="6.0" ry="4.6" transform="rotate(28 871.19 354.58)" fill="url(#gY)" />
<ellipse cx="884.61" cy="361.72" rx="6.0" ry="4.6" transform="rotate(28 884.61 361.72)" fill="url(#gY)" />
<circle cx="878.90" cy="371.40" r="4.60" fill="url(#gC)"/>
<ellipse cx="871.19" cy="366.33" rx="6.0" ry="4.6" transform="rotate(28 871.19 366.33)" fill="url(#gY)" />
<ellipse cx="884.61" cy="373.46" rx="6.0" ry="4.6" transform="rotate(28 884.61 373.46)" fill="url(#gY)" />
<circle cx="878.90" cy="383.14" r="4.60" fill="url(#gC)"/>
<ellipse cx="871.19" cy="378.07" rx="6.0" ry="4.6" transform="rotate(28 871.19 378.07)" fill="url(#gY)" />
<ellipse cx="884.61" cy="385.21" rx="6.0" ry="4.6" transform="rotate(28 884.61 385.21)" fill="url(#gY)" />
<circle cx="878.90" cy="394.89" r="4.60" fill="url(#gC)"/>
<ellipse cx="871.19" cy="389.82" rx="6.0" ry="4.6" transform="rotate(28 871.19 389.82)" fill="url(#gY)" />
<ellipse cx="884.61" cy="396.95" rx="6.0" ry="4.6" transform="rotate(28 884.61 396.95)" fill="url(#gY)" />
<circle cx="878.90" cy="406.63" r="4.60" fill="url(#gC)"/>
<ellipse cx="871.19" cy="401.56" rx="6.0" ry="4.6" transform="rotate(28 871.19 401.56)" fill="url(#gY)" />
<ellipse cx="884.61" cy="408.70" rx="6.0" ry="4.6" transform="rotate(28 884.61 408.70)" fill="url(#gY)" />
<ellipse cx="910.50" cy="321.42" rx="18.0" ry="5.6000000000000005" transform="rotate(16 910.50 321.42)" fill="#4e420e" />
<ellipse cx="910.50" cy="332.84" rx="18.0" ry="5.6000000000000005" transform="rotate(16 910.50 332.84)" fill="#4e420e" />
<ellipse cx="910.50" cy="344.26" rx="18.0" ry="5.6000000000000005" transform="rotate(16 910.50 344.26)" fill="#4e420e" />
<ellipse cx="910.50" cy="355.68" rx="18.0" ry="5.6000000000000005" transform="rotate(16 910.50 355.68)" fill="#4e420e" />
<ellipse cx="910.50" cy="367.10" rx="18.0" ry="5.6000000000000005" transform="rotate(16 910.50 367.10)" fill="#4e420e" />
<ellipse cx="910.50" cy="378.52" rx="18.0" ry="5.6000000000000005" transform="rotate(16 910.50 378.52)" fill="#4e420e" />
<ellipse cx="910.50" cy="389.94" rx="18.0" ry="5.6000000000000005" transform="rotate(16 910.50 389.94)" fill="#4e420e" />
<ellipse cx="910.50" cy="401.36" rx="18.0" ry="5.6000000000000005" transform="rotate(16 910.50 401.36)" fill="#4e420e" />
<ellipse cx="910.50" cy="412.78" rx="18.0" ry="5.6000000000000005" transform="rotate(16 910.50 412.78)" fill="#4e420e" />
<circle cx="911.50" cy="321.12" r="4.70" fill="url(#gC)"/>
<ellipse cx="900.31" cy="316.70" rx="7.4" ry="4.7" transform="rotate(16 900.31 316.70)" fill="url(#gYd)" />
<ellipse cx="920.69" cy="322.54" rx="7.4" ry="4.7" transform="rotate(16 920.69 322.54)" fill="url(#gY)" />
<circle cx="911.50" cy="332.54" r="4.70" fill="url(#gC)"/>
<ellipse cx="900.31" cy="328.12" rx="7.4" ry="4.7" transform="rotate(16 900.31 328.12)" fill="url(#gYd)" />
<ellipse cx="920.69" cy="333.96" rx="7.4" ry="4.7" transform="rotate(16 920.69 333.96)" fill="url(#gY)" />
<circle cx="911.50" cy="343.96" r="4.70" fill="url(#gC)"/>
<ellipse cx="900.31" cy="339.54" rx="7.4" ry="4.7" transform="rotate(16 900.31 339.54)" fill="url(#gYd)" />
<ellipse cx="920.69" cy="345.38" rx="7.4" ry="4.7" transform="rotate(16 920.69 345.38)" fill="url(#gY)" />
<circle cx="911.50" cy="355.38" r="4.70" fill="url(#gC)"/>
<ellipse cx="900.31" cy="350.96" rx="7.4" ry="4.7" transform="rotate(16 900.31 350.96)" fill="url(#gYd)" />
<ellipse cx="920.69" cy="356.80" rx="7.4" ry="4.7" transform="rotate(16 920.69 356.80)" fill="url(#gY)" />
<circle cx="911.50" cy="366.80" r="4.70" fill="url(#gC)"/>
<ellipse cx="900.31" cy="362.38" rx="7.4" ry="4.7" transform="rotate(16 900.31 362.38)" fill="url(#gYd)" />
<ellipse cx="920.69" cy="368.22" rx="7.4" ry="4.7" transform="rotate(16 920.69 368.22)" fill="url(#gY)" />
<circle cx="911.50" cy="378.22" r="4.70" fill="url(#gC)"/>
<ellipse cx="900.31" cy="373.80" rx="7.4" ry="4.7" transform="rotate(16 900.31 373.80)" fill="url(#gYd)" />
<ellipse cx="920.69" cy="379.64" rx="7.4" ry="4.7" transform="rotate(16 920.69 379.64)" fill="url(#gY)" />
<circle cx="911.50" cy="389.64" r="4.70" fill="url(#gC)"/>
<ellipse cx="900.31" cy="385.22" rx="7.4" ry="4.7" transform="rotate(16 900.31 385.22)" fill="url(#gYd)" />
<ellipse cx="920.69" cy="391.06" rx="7.4" ry="4.7" transform="rotate(16 920.69 391.06)" fill="url(#gY)" />
<circle cx="911.50" cy="401.06" r="4.70" fill="url(#gC)"/>
<ellipse cx="900.31" cy="396.64" rx="7.4" ry="4.7" transform="rotate(16 900.31 396.64)" fill="url(#gYd)" />
<ellipse cx="920.69" cy="402.48" rx="7.4" ry="4.7" transform="rotate(16 920.69 402.48)" fill="url(#gY)" />
<circle cx="911.50" cy="412.48" r="4.70" fill="url(#gC)"/>
<ellipse cx="900.31" cy="408.06" rx="7.4" ry="4.7" transform="rotate(16 900.31 408.06)" fill="url(#gYd)" />
<ellipse cx="920.69" cy="413.90" rx="7.4" ry="4.7" transform="rotate(16 920.69 413.90)" fill="url(#gY)" />
</g>
<line x1="757.20" y1="410.50" x2="757.20" y2="324.70" stroke="#111" stroke-width="2.6" />
<polygon points="757.20,318.70 753.30,325.70 761.10,325.70" fill="#111"/>
<text x="736.30" y="369.50" font-size="15.5" fill="#d43c58" font-weight="bold" font-family="'Liberation Sans', Arial, Helvetica, sans-serif" textLength="12.80" lengthAdjust="spacingAndGlyphs" >e-</text>
<g filter="url(#fb)">
<polygon points="753.7,527.7 800,515.2 948,511.5 957,518.1 938.6,543.5" fill="url(#gPl)"/>
<rect x="783.00" y="447.20" width="168.00" height="8.4" fill="#25331a" opacity="0.9"/>
<ellipse cx="785.50" cy="445.10" rx="5.2" ry="4.1000000000000005" transform="rotate(30 785.50 445.10)" fill="#3e360c" />
<ellipse cx="785.50" cy="460.40" rx="5.2" ry="4.1000000000000005" transform="rotate(-30 785.50 460.40)" fill="#3e360c" />
<ellipse cx="797.90" cy="445.10" rx="5.2" ry="4.1000000000000005" transform="rotate(30 797.90 445.10)" fill="#3e360c" />
<ellipse cx="797.90" cy="460.40" rx="5.2" ry="4.1000000000000005" transform="rotate(-30 797.90 460.40)" fill="#3e360c" />
<ellipse cx="810.30" cy="445.10" rx="5.2" ry="4.1000000000000005" transform="rotate(30 810.30 445.10)" fill="#3e360c" />
<ellipse cx="810.30" cy="460.40" rx="5.2" ry="4.1000000000000005" transform="rotate(-30 810.30 460.40)" fill="#3e360c" />
<ellipse cx="822.70" cy="445.10" rx="5.2" ry="4.1000000000000005" transform="rotate(30 822.70 445.10)" fill="#3e360c" />
<ellipse cx="822.70" cy="460.40" rx="5.2" ry="4.1000000000000005" transform="rotate(-30 822.70 460.40)" fill="#3e360c" />
<ellipse cx="835.10" cy="445.10" rx="5.2" ry="4.1000000000000005" transform="rotate(30 835.10 445.10)" fill="#3e360c" />
<ellipse cx="835.10" cy="460.40" rx="5.2" ry="4.1000000000000005" transform="rotate(-30 835.10 460.40)" fill="#3e360c" />
<ellipse cx="847.50" cy="445.10" rx="5.2" ry="4.1000000000000005" transform="rotate(30 847.50 445.10)" fill="#3e360c" />
<ellipse cx="847.50" cy="460.40" rx="5.2" ry="4.1000000000000005" transform="rotate(-30 847.50 460.40)" fill="#3e360c" />
<ellipse cx="859.90" cy="445.10" rx="5.2" ry="4.1000000000000005" transform="rotate(30 859.90 445.10)" fill="#3e360c" />
<ellipse cx="859.90" cy="460.40" rx="5.2" ry="4.1000000000000005" transform="rotate(-30 859.90 460.40)" fill="#3e360c" />
<ellipse cx="872.30" cy="445.10" rx="5.2" ry="4.1000000000000005" transform="rotate(30 872.30 445.10)" fill="#3e360c" />
<ellipse cx="872.30" cy="460.40" rx="5.2" ry="4.1000000000000005" transform="rotate(-30 872.30 460.40)" fill="#3e360c" />
<ellipse cx="884.70" cy="445.10" rx="5.2" ry="4.1000000000000005" transform="rotate(30 884.70 445.10)" fill="#3e360c" />
<ellipse cx="884.70" cy="460.40" rx="5.2" ry="4.1000000000000005" transform="rotate(-30 884.70 460.40)" fill="#3e360c" />
<ellipse cx="897.10" cy="445.10" rx="5.2" ry="4.1000000000000005" transform="rotate(30 897.10 445.10)" fill="#3e360c" />
<ellipse cx="897.10" cy="460.40" rx="5.2" ry="4.1000000000000005" transform="rotate(-30 897.10 460.40)" fill="#3e360c" />
<ellipse cx="909.50" cy="445.10" rx="5.2" ry="4.1000000000000005" transform="rotate(30 909.50 445.10)" fill="#3e360c" />
<ellipse cx="909.50" cy="460.40" rx="5.2" ry="4.1000000000000005" transform="rotate(-30 909.50 460.40)" fill="#3e360c" />
<ellipse cx="921.90" cy="445.10" rx="5.2" ry="4.1000000000000005" transform="rotate(30 921.90 445.10)" fill="#3e360c" />
<ellipse cx="921.90" cy="460.40" rx="5.2" ry="4.1000000000000005" transform="rotate(-30 921.90 460.40)" fill="#3e360c" />
<ellipse cx="934.30" cy="445.10" rx="5.2" ry="4.1000000000000005" transform="rotate(30 934.30 445.10)" fill="#3e360c" />
<ellipse cx="934.30" cy="460.40" rx="5.2" ry="4.1000000000000005" transform="rotate(-30 934.30 460.40)" fill="#3e360c" />
<ellipse cx="946.70" cy="445.10" rx="5.2" ry="4.1000000000000005" transform="rotate(30 946.70 445.10)" fill="#3e360c" />
<ellipse cx="946.70" cy="460.40" rx="5.2" ry="4.1000000000000005" transform="rotate(-30 946.70 460.40)" fill="#3e360c" />
<circle cx="789.90" cy="451.40" r="3.5" fill="url(#gC)"/>
<circle cx="802.30" cy="451.40" r="3.5" fill="url(#gC)"/>
<circle cx="814.70" cy="451.40" r="3.5" fill="url(#gC)"/>
<circle cx="827.10" cy="451.40" r="3.5" fill="url(#gC)"/>
<circle cx="839.50" cy="451.40" r="3.5" fill="url(#gC)"/>
<circle cx="851.90" cy="451.40" r="3.5" fill="url(#gC)"/>
<circle cx="864.30" cy="451.40" r="3.5" fill="url(#gC)"/>
<circle cx="876.70" cy="451.40" r="3.5" fill="url(#gC)"/>
<circle cx="889.10" cy="451.40" r="3.5" fill="url(#gC)"/>
<circle cx="901.50" cy="451.40" r="3.5" fill="url(#gC)"/>
<circle cx="913.90" cy="451.40" r="3.5" fill="url(#gC)"/>
<circle cx="926.30" cy="451.40" r="3.5" fill="url(#gC)"/>
<circle cx="938.70" cy="451.40" r="3.5" fill="url(#gC)"/>
<circle cx="951.10" cy="451.40" r="3.5" fill="url(#gC)"/>
<ellipse cx="783.70" cy="443.50" rx="4.8" ry="3.7" transform="rotate(30 783.70 443.50)" fill="url(#gY)" />
<ellipse cx="783.70" cy="458.80" rx="4.8" ry="3.7" transform="rotate(-30 783.70 458.80)" fill="url(#gY)" />
<ellipse cx="796.10" cy="443.50" rx="4.8" ry="3.7" transform="rotate(30 796.10 443.50)" fill="url(#gY)" />
<ellipse cx="796.10" cy="458.80" rx="4.8" ry="3.7" transform="rotate(-30 796.10 458.80)" fill="url(#gY)" />
<ellipse cx="808.50" cy="443.50" rx="4.8" ry="3.7" transform="rotate(30 808.50 443.50)" fill="url(#gY)" />
<ellipse cx="808.50" cy="458.80" rx="4.8" ry="3.7" transform="rotate(-30 808.50 458.80)" fill="url(#gY)" />
<ellipse cx="820.90" cy="443.50" rx="4.8" ry="3.7" transform="rotate(30 820.90 443.50)" fill="url(#gY)" />
<ellipse cx="820.90" cy="458.80" rx="4.8" ry="3.7" transform="rotate(-30 820.90 458.80)" fill="url(#gY)" />
<ellipse cx="833.30" cy="443.50" rx="4.8" ry="3.7" transform="rotate(30 833.30 443.50)" fill="url(#gY)" />
<ellipse cx="833.30" cy="458.80" rx="4.8" ry="3.7" transform="rotate(-30 833.30 458.80)" fill="url(#gY)" />
<ellipse cx="845.70" cy="443.50" rx="4.8" ry="3.7" transform="rotate(30 845.70 443.50)" fill="url(#gY)" />
<ellipse cx="845.70" cy="458.80" rx="4.8" ry="3.7" transform="rotate(-30 845.70 458.80)" fill="url(#gY)" />
<ellipse cx="858.10" cy="443.50" rx="4.8" ry="3.7" transform="rotate(30 858.10 443.50)" fill="url(#gY)" />
<ellipse cx="858.10" cy="458.80" rx="4.8" ry="3.7" transform="rotate(-30 858.10 458.80)" fill="url(#gY)" />
<ellipse cx="870.50" cy="443.50" rx="4.8" ry="3.7" transform="rotate(30 870.50 443.50)" fill="url(#gY)" />
<ellipse cx="870.50" cy="458.80" rx="4.8" ry="3.7" transform="rotate(-30 870.50 458.80)" fill="url(#gY)" />
<ellipse cx="882.90" cy="443.50" rx="4.8" ry="3.7" transform="rotate(30 882.90 443.50)" fill="url(#gY)" />
<ellipse cx="882.90" cy="458.80" rx="4.8" ry="3.7" transform="rotate(-30 882.90 458.80)" fill="url(#gY)" />
<ellipse cx="895.30" cy="443.50" rx="4.8" ry="3.7" transform="rotate(30 895.30 443.50)" fill="url(#gY)" />
<ellipse cx="895.30" cy="458.80" rx="4.8" ry="3.7" transform="rotate(-30 895.30 458.80)" fill="url(#gY)" />
<ellipse cx="907.70" cy="443.50" rx="4.8" ry="3.7" transform="rotate(30 907.70 443.50)" fill="url(#gY)" />
<ellipse cx="907.70" cy="458.80" rx="4.8" ry="3.7" transform="rotate(-30 907.70 458.80)" fill="url(#gY)" />
<ellipse cx="920.10" cy="443.50" rx="4.8" ry="3.7" transform="rotate(30 920.10 443.50)" fill="url(#gY)" />
<ellipse cx="920.10" cy="458.80" rx="4.8" ry="3.7" transform="rotate(-30 920.10 458.80)" fill="url(#gY)" />
<ellipse cx="932.50" cy="443.50" rx="4.8" ry="3.7" transform="rotate(30 932.50 443.50)" fill="url(#gY)" />
<ellipse cx="932.50" cy="458.80" rx="4.8" ry="3.7" transform="rotate(-30 932.50 458.80)" fill="url(#gY)" />
<ellipse cx="944.90" cy="443.50" rx="4.8" ry="3.7" transform="rotate(30 944.90 443.50)" fill="url(#gY)" />
<ellipse cx="944.90" cy="458.80" rx="4.8" ry="3.7" transform="rotate(-30 944.90 458.80)" fill="url(#gY)" />
<rect x="777.50" y="479.60" width="166.00" height="8.4" fill="#25331a" opacity="0.9"/>
<ellipse cx="780.00" cy="478.60" rx="5.2" ry="4.1000000000000005" transform="rotate(-30 780.00 478.60)" fill="#3e360c" />
<ellipse cx="780.00" cy="493.30" rx="5.2" ry="4.1000000000000005" transform="rotate(30 780.00 493.30)" fill="#3e360c" />
<ellipse cx="792.40" cy="478.60" rx="5.2" ry="4.1000000000000005" transform="rotate(-30 792.40 478.60)" fill="#3e360c" />
<ellipse cx="792.40" cy="493.30" rx="5.2" ry="4.1000000000000005" transform="rotate(30 792.40 493.30)" fill="#3e360c" />
<ellipse cx="804.80" cy="478.60" rx="5.2" ry="4.1000000000000005" transform="rotate(-30 804.80 478.60)" fill="#3e360c" />
<ellipse cx="804.80" cy="493.30" rx="5.2" ry="4.1000000000000005" transform="rotate(30 804.80 493.30)" fill="#3e360c" />
<ellipse cx="817.20" cy="478.60" rx="5.2" ry="4.1000000000000005" transform="rotate(-30 817.20 478.60)" fill="#3e360c" />
<ellipse cx="817.20" cy="493.30" rx="5.2" ry="4.1000000000000005" transform="rotate(30 817.20 493.30)" fill="#3e360c" />
<ellipse cx="829.60" cy="478.60" rx="5.2" ry="4.1000000000000005" transform="rotate(-30 829.60 478.60)" fill="#3e360c" />
<ellipse cx="829.60" cy="493.30" rx="5.2" ry="4.1000000000000005" transform="rotate(30 829.60 493.30)" fill="#3e360c" />
<ellipse cx="842.00" cy="478.60" rx="5.2" ry="4.1000000000000005" transform="rotate(-30 842.00 478.60)" fill="#3e360c" />
<ellipse cx="842.00" cy="493.30" rx="5.2" ry="4.1000000000000005" transform="rotate(30 842.00 493.30)" fill="#3e360c" />
<ellipse cx="854.40" cy="478.60" rx="5.2" ry="4.1000000000000005" transform="rotate(-30 854.40 478.60)" fill="#3e360c" />
<ellipse cx="854.40" cy="493.30" rx="5.2" ry="4.1000000000000005" transform="rotate(30 854.40 493.30)" fill="#3e360c" />
<ellipse cx="866.80" cy="478.60" rx="5.2" ry="4.1000000000000005" transform="rotate(-30 866.80 478.60)" fill="#3e360c" />
<ellipse cx="866.80" cy="493.30" rx="5.2" ry="4.1000000000000005" transform="rotate(30 866.80 493.30)" fill="#3e360c" />
<ellipse cx="879.20" cy="478.60" rx="5.2" ry="4.1000000000000005" transform="rotate(-30 879.20 478.60)" fill="#3e360c" />
<ellipse cx="879.20" cy="493.30" rx="5.2" ry="4.1000000000000005" transform="rotate(30 879.20 493.30)" fill="#3e360c" />
<ellipse cx="891.60" cy="478.60" rx="5.2" ry="4.1000000000000005" transform="rotate(-30 891.60 478.60)" fill="#3e360c" />
<ellipse cx="891.60" cy="493.30" rx="5.2" ry="4.1000000000000005" transform="rotate(30 891.60 493.30)" fill="#3e360c" />
<ellipse cx="904.00" cy="478.60" rx="5.2" ry="4.1000000000000005" transform="rotate(-30 904.00 478.60)" fill="#3e360c" />
<ellipse cx="904.00" cy="493.30" rx="5.2" ry="4.1000000000000005" transform="rotate(30 904.00 493.30)" fill="#3e360c" />
<ellipse cx="916.40" cy="478.60" rx="5.2" ry="4.1000000000000005" transform="rotate(-30 916.40 478.60)" fill="#3e360c" />
<ellipse cx="916.40" cy="493.30" rx="5.2" ry="4.1000000000000005" transform="rotate(30 916.40 493.30)" fill="#3e360c" />
<ellipse cx="928.80" cy="478.60" rx="5.2" ry="4.1000000000000005" transform="rotate(-30 928.80 478.60)" fill="#3e360c" />
<ellipse cx="928.80" cy="493.30" rx="5.2" ry="4.1000000000000005" transform="rotate(30 928.80 493.30)" fill="#3e360c" />
<ellipse cx="941.20" cy="478.60" rx="5.2" ry="4.1000000000000005" transform="rotate(-30 941.20 478.60)" fill="#3e360c" />
<ellipse cx="941.20" cy="493.30" rx="5.2" ry="4.1000000000000005" transform="rotate(30 941.20 493.30)" fill="#3e360c" />
<circle cx="784.40" cy="483.80" r="3.5" fill="url(#gC)"/>
<circle cx="796.80" cy="483.80" r="3.5" fill="url(#gC)"/>
<circle cx="809.20" cy="483.80" r="3.5" fill="url(#gC)"/>
<circle cx="821.60" cy="483.80" r="3.5" fill="url(#gC)"/>
<circle cx="834.00" cy="483.80" r="3.5" fill="url(#gC)"/>
<circle cx="846.40" cy="483.80" r="3.5" fill="url(#gC)"/>
<circle cx="858.80" cy="483.80" r="3.5" fill="url(#gC)"/>
<circle cx="871.20" cy="483.80" r="3.5" fill="url(#gC)"/>
<circle cx="883.60" cy="483.80" r="3.5" fill="url(#gC)"/>
<circle cx="896.00" cy="483.80" r="3.5" fill="url(#gC)"/>
<circle cx="908.40" cy="483.80" r="3.5" fill="url(#gC)"/>
<circle cx="920.80" cy="483.80" r="3.5" fill="url(#gC)"/>
<circle cx="933.20" cy="483.80" r="3.5" fill="url(#gC)"/>
<circle cx="945.60" cy="483.80" r="3.5" fill="url(#gC)"/>
<ellipse cx="778.20" cy="477.00" rx="4.8" ry="3.7" transform="rotate(-30 778.20 477.00)" fill="url(#gY)" />
<ellipse cx="778.20" cy="491.70" rx="4.8" ry="3.7" transform="rotate(30 778.20 491.70)" fill="url(#gY)" />
<ellipse cx="790.60" cy="477.00" rx="4.8" ry="3.7" transform="rotate(-30 790.60 477.00)" fill="url(#gY)" />
<ellipse cx="790.60" cy="491.70" rx="4.8" ry="3.7" transform="rotate(30 790.60 491.70)" fill="url(#gY)" />
<ellipse cx="803.00" cy="477.00" rx="4.8" ry="3.7" transform="rotate(-30 803.00 477.00)" fill="url(#gY)" />
<ellipse cx="803.00" cy="491.70" rx="4.8" ry="3.7" transform="rotate(30 803.00 491.70)" fill="url(#gY)" />
<ellipse cx="815.40" cy="477.00" rx="4.8" ry="3.7" transform="rotate(-30 815.40 477.00)" fill="url(#gY)" />
<ellipse cx="815.40" cy="491.70" rx="4.8" ry="3.7" transform="rotate(30 815.40 491.70)" fill="url(#gY)" />
<ellipse cx="827.80" cy="477.00" rx="4.8" ry="3.7" transform="rotate(-30 827.80 477.00)" fill="url(#gY)" />
<ellipse cx="827.80" cy="491.70" rx="4.8" ry="3.7" transform="rotate(30 827.80 491.70)" fill="url(#gY)" />
<ellipse cx="840.20" cy="477.00" rx="4.8" ry="3.7" transform="rotate(-30 840.20 477.00)" fill="url(#gY)" />
<ellipse cx="840.20" cy="491.70" rx="4.8" ry="3.7" transform="rotate(30 840.20 491.70)" fill="url(#gY)" />
<ellipse cx="852.60" cy="477.00" rx="4.8" ry="3.7" transform="rotate(-30 852.60 477.00)" fill="url(#gY)" />
<ellipse cx="852.60" cy="491.70" rx="4.8" ry="3.7" transform="rotate(30 852.60 491.70)" fill="url(#gY)" />
<ellipse cx="865.00" cy="477.00" rx="4.8" ry="3.7" transform="rotate(-30 865.00 477.00)" fill="url(#gY)" />
<ellipse cx="865.00" cy="491.70" rx="4.8" ry="3.7" transform="rotate(30 865.00 491.70)" fill="url(#gY)" />
<ellipse cx="877.40" cy="477.00" rx="4.8" ry="3.7" transform="rotate(-30 877.40 477.00)" fill="url(#gY)" />
<ellipse cx="877.40" cy="491.70" rx="4.8" ry="3.7" transform="rotate(30 877.40 491.70)" fill="url(#gY)" />
<ellipse cx="889.80" cy="477.00" rx="4.8" ry="3.7" transform="rotate(-30 889.80 477.00)" fill="url(#gY)" />
<ellipse cx="889.80" cy="491.70" rx="4.8" ry="3.7" transform="rotate(30 889.80 491.70)" fill="url(#gY)" />
<ellipse cx="902.20" cy="477.00" rx="4.8" ry="3.7" transform="rotate(-30 902.20 477.00)" fill="url(#gY)" />
<ellipse cx="902.20" cy="491.70" rx="4.8" ry="3.7" transform="rotate(30 902.20 491.70)" fill="url(#gY)" />
<ellipse cx="914.60" cy="477.00" rx="4.8" ry="3.7" transform="rotate(-30 914.60 477.00)" fill="url(#gY)" />
<ellipse cx="914.60" cy="491.70" rx="4.8" ry="3.7" transform="rotate(30 914.60 491.70)" fill="url(#gY)" />
<ellipse cx="927.00" cy="477.00" rx="4.8" ry="3.7" transform="rotate(-30 927.00 477.00)" fill="url(#gY)" />
<ellipse cx="927.00" cy="491.70" rx="4.8" ry="3.7" transform="rotate(30 927.00 491.70)" fill="url(#gY)" />
<ellipse cx="939.40" cy="477.00" rx="4.8" ry="3.7" transform="rotate(-30 939.40 477.00)" fill="url(#gY)" />
<ellipse cx="939.40" cy="491.70" rx="4.8" ry="3.7" transform="rotate(30 939.40 491.70)" fill="url(#gY)" />
<rect x="783.00" y="511.40" width="166.50" height="8.4" fill="#25331a" opacity="0.9"/>
<ellipse cx="787.20" cy="509.10" rx="5.6000000000000005" ry="4.3" transform="rotate(62 787.20 509.10)" fill="#3e360c" />
<ellipse cx="784.20" cy="526.10" rx="5.6000000000000005" ry="4.3" transform="rotate(-62 784.20 526.10)" fill="#3e360c" />
<ellipse cx="799.60" cy="509.10" rx="5.6000000000000005" ry="4.3" transform="rotate(62 799.60 509.10)" fill="#3e360c" />
<ellipse cx="796.60" cy="526.10" rx="5.6000000000000005" ry="4.3" transform="rotate(-62 796.60 526.10)" fill="#3e360c" />
<ellipse cx="812.00" cy="509.10" rx="5.6000000000000005" ry="4.3" transform="rotate(62 812.00 509.10)" fill="#3e360c" />
<ellipse cx="809.00" cy="526.10" rx="5.6000000000000005" ry="4.3" transform="rotate(-62 809.00 526.10)" fill="#3e360c" />
<ellipse cx="824.40" cy="509.10" rx="5.6000000000000005" ry="4.3" transform="rotate(62 824.40 509.10)" fill="#3e360c" />
<ellipse cx="821.40" cy="526.10" rx="5.6000000000000005" ry="4.3" transform="rotate(-62 821.40 526.10)" fill="#3e360c" />
<ellipse cx="836.80" cy="509.10" rx="5.6000000000000005" ry="4.3" transform="rotate(62 836.80 509.10)" fill="#3e360c" />
<ellipse cx="833.80" cy="526.10" rx="5.6000000000000005" ry="4.3" transform="rotate(-62 833.80 526.10)" fill="#3e360c" />
<ellipse cx="849.20" cy="509.10" rx="5.6000000000000005" ry="4.3" transform="rotate(62 849.20 509.10)" fill="#3e360c" />
<ellipse cx="846.20" cy="526.10" rx="5.6000000000000005" ry="4.3" transform="rotate(-62 846.20 526.10)" fill="#3e360c" />
<ellipse cx="861.60" cy="509.10" rx="5.6000000000000005" ry="4.3" transform="rotate(62 861.60 509.10)" fill="#3e360c" />
<ellipse cx="858.60" cy="526.10" rx="5.6000000000000005" ry="4.3" transform="rotate(-62 858.60 526.10)" fill="#3e360c" />
<ellipse cx="874.00" cy="509.10" rx="5.6000000000000005" ry="4.3" transform="rotate(62 874.00 509.10)" fill="#3e360c" />
<ellipse cx="871.00" cy="526.10" rx="5.6000000000000005" ry="4.3" transform="rotate(-62 871.00 526.10)" fill="#3e360c" />
<ellipse cx="886.40" cy="509.10" rx="5.6000000000000005" ry="4.3" transform="rotate(62 886.40 509.10)" fill="#3e360c" />
<ellipse cx="883.40" cy="526.10" rx="5.6000000000000005" ry="4.3" transform="rotate(-62 883.40 526.10)" fill="#3e360c" />
<ellipse cx="898.80" cy="509.10" rx="5.6000000000000005" ry="4.3" transform="rotate(62 898.80 509.10)" fill="#3e360c" />
<ellipse cx="895.80" cy="526.10" rx="5.6000000000000005" ry="4.3" transform="rotate(-62 895.80 526.10)" fill="#3e360c" />
<ellipse cx="911.20" cy="509.10" rx="5.6000000000000005" ry="4.3" transform="rotate(62 911.20 509.10)" fill="#3e360c" />
<ellipse cx="908.20" cy="526.10" rx="5.6000000000000005" ry="4.3" transform="rotate(-62 908.20 526.10)" fill="#3e360c" />
<ellipse cx="923.60" cy="509.10" rx="5.6000000000000005" ry="4.3" transform="rotate(62 923.60 509.10)" fill="#3e360c" />
<ellipse cx="920.60" cy="526.10" rx="5.6000000000000005" ry="4.3" transform="rotate(-62 920.60 526.10)" fill="#3e360c" />
<ellipse cx="936.00" cy="509.10" rx="5.6000000000000005" ry="4.3" transform="rotate(62 936.00 509.10)" fill="#3e360c" />
<ellipse cx="933.00" cy="526.10" rx="5.6000000000000005" ry="4.3" transform="rotate(-62 933.00 526.10)" fill="#3e360c" />
<ellipse cx="948.40" cy="509.10" rx="5.6000000000000005" ry="4.3" transform="rotate(62 948.40 509.10)" fill="#3e360c" />
<ellipse cx="945.40" cy="526.10" rx="5.6000000000000005" ry="4.3" transform="rotate(-62 945.40 526.10)" fill="#3e360c" />
<circle cx="790.10" cy="515.60" r="3.6" fill="url(#gC)"/>
<circle cx="802.50" cy="515.60" r="3.6" fill="url(#gC)"/>
<circle cx="814.90" cy="515.60" r="3.6" fill="url(#gC)"/>
<circle cx="827.30" cy="515.60" r="3.6" fill="url(#gC)"/>
<circle cx="839.70" cy="515.60" r="3.6" fill="url(#gC)"/>
<circle cx="852.10" cy="515.60" r="3.6" fill="url(#gC)"/>
<circle cx="864.50" cy="515.60" r="3.6" fill="url(#gC)"/>
<circle cx="876.90" cy="515.60" r="3.6" fill="url(#gC)"/>
<circle cx="889.30" cy="515.60" r="3.6" fill="url(#gC)"/>
<circle cx="901.70" cy="515.60" r="3.6" fill="url(#gC)"/>
<circle cx="914.10" cy="515.60" r="3.6" fill="url(#gC)"/>
<circle cx="926.50" cy="515.60" r="3.6" fill="url(#gC)"/>
<circle cx="938.90" cy="515.60" r="3.6" fill="url(#gC)"/>
<circle cx="951.30" cy="515.60" r="3.6" fill="url(#gC)"/>
<ellipse cx="785.40" cy="507.50" rx="5.2" ry="3.9" transform="rotate(62 785.40 507.50)" fill="url(#gY)" />
<ellipse cx="782.40" cy="524.50" rx="5.2" ry="3.9" transform="rotate(-62 782.40 524.50)" fill="url(#gY)" />
<ellipse cx="797.80" cy="507.50" rx="5.2" ry="3.9" transform="rotate(62 797.80 507.50)" fill="url(#gY)" />
<ellipse cx="794.80" cy="524.50" rx="5.2" ry="3.9" transform="rotate(-62 794.80 524.50)" fill="url(#gY)" />
<ellipse cx="810.20" cy="507.50" rx="5.2" ry="3.9" transform="rotate(62 810.20 507.50)" fill="url(#gY)" />
<ellipse cx="807.20" cy="524.50" rx="5.2" ry="3.9" transform="rotate(-62 807.20 524.50)" fill="url(#gY)" />
<ellipse cx="822.60" cy="507.50" rx="5.2" ry="3.9" transform="rotate(62 822.60 507.50)" fill="url(#gY)" />
<ellipse cx="819.60" cy="524.50" rx="5.2" ry="3.9" transform="rotate(-62 819.60 524.50)" fill="url(#gY)" />
<ellipse cx="835.00" cy="507.50" rx="5.2" ry="3.9" transform="rotate(62 835.00 507.50)" fill="url(#gY)" />
<ellipse cx="832.00" cy="524.50" rx="5.2" ry="3.9" transform="rotate(-62 832.00 524.50)" fill="url(#gY)" />
<ellipse cx="847.40" cy="507.50" rx="5.2" ry="3.9" transform="rotate(62 847.40 507.50)" fill="url(#gY)" />
<ellipse cx="844.40" cy="524.50" rx="5.2" ry="3.9" transform="rotate(-62 844.40 524.50)" fill="url(#gY)" />
<ellipse cx="859.80" cy="507.50" rx="5.2" ry="3.9" transform="rotate(62 859.80 507.50)" fill="url(#gY)" />
<ellipse cx="856.80" cy="524.50" rx="5.2" ry="3.9" transform="rotate(-62 856.80 524.50)" fill="url(#gY)" />
<ellipse cx="872.20" cy="507.50" rx="5.2" ry="3.9" transform="rotate(62 872.20 507.50)" fill="url(#gY)" />
<ellipse cx="869.20" cy="524.50" rx="5.2" ry="3.9" transform="rotate(-62 869.20 524.50)" fill="url(#gY)" />
<ellipse cx="884.60" cy="507.50" rx="5.2" ry="3.9" transform="rotate(62 884.60 507.50)" fill="url(#gY)" />
<ellipse cx="881.60" cy="524.50" rx="5.2" ry="3.9" transform="rotate(-62 881.60 524.50)" fill="url(#gY)" />
<ellipse cx="897.00" cy="507.50" rx="5.2" ry="3.9" transform="rotate(62 897.00 507.50)" fill="url(#gY)" />
<ellipse cx="894.00" cy="524.50" rx="5.2" ry="3.9" transform="rotate(-62 894.00 524.50)" fill="url(#gY)" />
<ellipse cx="909.40" cy="507.50" rx="5.2" ry="3.9" transform="rotate(62 909.40 507.50)" fill="url(#gY)" />
<ellipse cx="906.40" cy="524.50" rx="5.2" ry="3.9" transform="rotate(-62 906.40 524.50)" fill="url(#gY)" />
<ellipse cx="921.80" cy="507.50" rx="5.2" ry="3.9" transform="rotate(62 921.80 507.50)" fill="url(#gY)" />
<ellipse cx="918.80" cy="524.50" rx="5.2" ry="3.9" transform="rotate(-62 918.80 524.50)" fill="url(#gY)" />
<ellipse cx="934.20" cy="507.50" rx="5.2" ry="3.9" transform="rotate(62 934.20 507.50)" fill="url(#gY)" />
<ellipse cx="931.20" cy="524.50" rx="5.2" ry="3.9" transform="rotate(-62 931.20 524.50)" fill="url(#gY)" />
<ellipse cx="946.60" cy="507.50" rx="5.2" ry="3.9" transform="rotate(62 946.60 507.50)" fill="url(#gY)" />
<ellipse cx="943.60" cy="524.50" rx="5.2" ry="3.9" transform="rotate(-62 943.60 524.50)" fill="url(#gY)" />
</g>
<line x1="771.00" y1="479.80" x2="771.00" y2="457.10" stroke="#111" stroke-width="2.4" />
<polygon points="771.00,451.60 767.60,458.10 774.40,458.10" fill="#111"/>
<line x1="771.00" y1="523.60" x2="771.00" y2="497.40" stroke="#111" stroke-width="2.4" />
<polygon points="771.00,491.90 767.60,498.40 774.40,498.40" fill="#111"/>
<text x="693.30" y="461.70" font-size="13" fill="#1c1c1c" font-weight="bold" font-family="'Liberation Sans', Arial, Helvetica, sans-serif" textLength="68.60" lengthAdjust="spacingAndGlyphs" stroke="#1c1c1c" stroke-width="0.3" >V<tspan dy="4.68" font-size="7.41">H</tspan><tspan dy="-4.68">= 0.123 V</tspan></text>
<text x="693.30" y="504.60" font-size="13" fill="#1c1c1c" font-weight="bold" font-family="'Liberation Sans', Arial, Helvetica, sans-serif" textLength="68.60" lengthAdjust="spacingAndGlyphs" stroke="#1c1c1c" stroke-width="0.3" >V<tspan dy="4.68" font-size="7.41">H</tspan><tspan dy="-4.68">= 0.123 V</tspan></text>
<text x="755.30" y="479.30" font-size="14.5" fill="#d43c58" font-weight="bold" font-family="'Liberation Sans', Arial, Helvetica, sans-serif" textLength="10.80" lengthAdjust="spacingAndGlyphs" >e-</text>
<text x="755.30" y="522.20" font-size="14.5" fill="#d43c58" font-weight="bold" font-family="'Liberation Sans', Arial, Helvetica, sans-serif" textLength="10.80" lengthAdjust="spacingAndGlyphs" >e-</text>
<g filter="url(#fb)">
<ellipse cx="701" cy="562.5" rx="8.3" ry="7" fill="url(#gMo)"/>
<ellipse cx="767.5" cy="562.5" rx="8.1" ry="7" fill="url(#gSe)"/>
<polygon points="827.2,558.8 852,558.8 858.4,567.6 822.2,567.6" fill="#5c80c6"/>
</g>
<text x="711.20" y="566.40" font-size="12.5" fill="#1c1c1c" font-weight="bold" font-family="'Liberation Sans', Arial, Helvetica, sans-serif" textLength="44.20" lengthAdjust="spacingAndGlyphs" stroke="#1c1c1c" stroke-width="0.3" >Mo atom</text>
<text x="776.10" y="566.40" font-size="12.5" fill="#1c1c1c" font-weight="bold" font-family="'Liberation Sans', Arial, Helvetica, sans-serif" textLength="39.50" lengthAdjust="spacingAndGlyphs" stroke="#1c1c1c" stroke-width="0.3" >Se atom</text>
<text x="865.80" y="566.80" font-size="12.5" fill="#1c1c1c" font-weight="bold" font-family="'Liberation Sans', Arial, Helvetica, sans-serif" textLength="80.10" lengthAdjust="spacingAndGlyphs" stroke="#1c1c1c" stroke-width="0.3" >Current collector</text>
</g>
</svg></body></html>
